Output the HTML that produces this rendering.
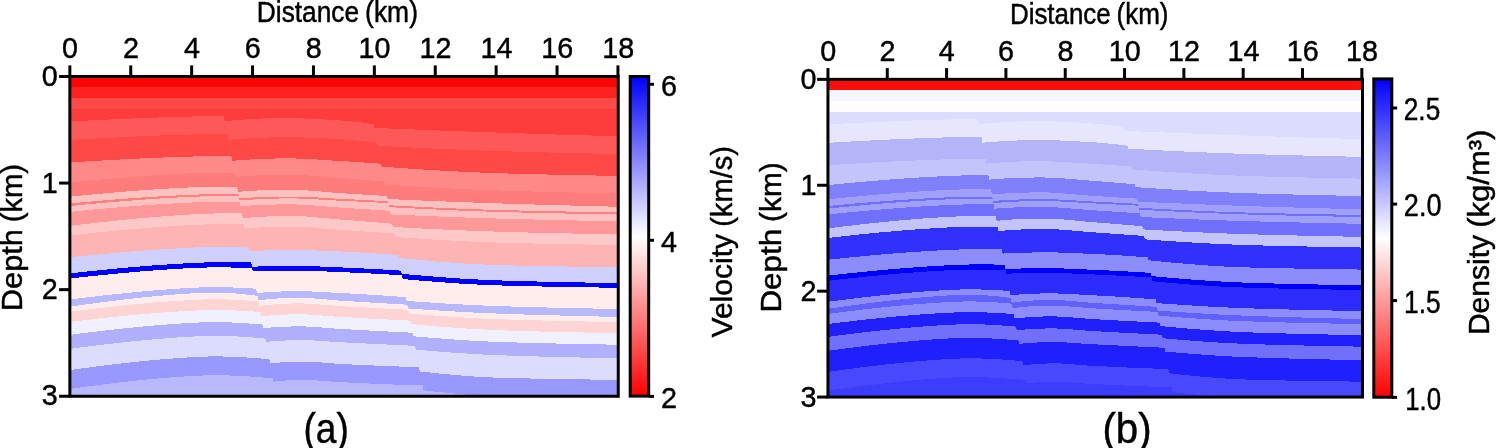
<!DOCTYPE html>
<html><head><meta charset="utf-8"><title>Velocity and density models</title>
<style>html,body{margin:0;padding:0;background:#fff}svg{display:block}</style></head>
<body>
<svg width="1498" height="448" viewBox="0 0 1498 448">
<rect width="1498" height="448" fill="#fff"/>
<clipPath id="ca"><rect x="69.80" y="76.50" width="548.60" height="319.80"/></clipPath>
<g clip-path="url(#ca)" shape-rendering="crispEdges">
<rect x="69.80" y="76.50" width="548.60" height="319.80" fill="#ff0404"/>
<rect x="69.80" y="86.50" width="548.60" height="311.80" fill="#ff2020"/>
<rect x="69.80" y="97.50" width="548.60" height="300.80" fill="#ff4848"/>
<rect x="69.80" y="108.75" width="548.60" height="289.55" fill="#ff3c3c"/>
<path d="M67.8,121.61 L71.6,121.40 L75.5,121.19 L79.3,120.99 L83.2,120.78 L87.0,120.58 L90.9,120.39 L94.7,120.20 L98.6,120.00 L102.4,119.82 L106.3,119.63 L110.1,119.45 L114.0,119.27 L117.8,119.10 L121.7,118.93 L125.5,118.76 L129.4,118.60 L133.2,118.43 L137.1,118.28 L140.9,118.12 L144.8,117.97 L148.6,117.83 L152.5,117.69 L156.3,117.55 L160.2,117.41 L164.0,117.29 L167.9,117.16 L171.7,117.04 L175.6,116.93 L179.4,116.82 L183.2,116.71 L187.1,116.61 L190.9,116.52 L194.8,116.43 L198.6,116.35 L202.5,116.28 L206.3,116.22 L210.2,116.16 L214.0,116.12 L217.9,116.10 L218.4,116.10 L219.0,116.10 L219.5,116.10 L220.1,116.10 L220.6,116.10 L221.2,116.10 L221.7,116.10 L222.2,116.10 L222.8,116.10 L223.3,116.10 L223.9,116.10 L224.7,121.22 L228.5,120.84 L232.3,120.49 L236.1,120.16 L240.0,119.86 L243.8,119.58 L247.6,119.32 L251.4,119.08 L255.3,118.87 L259.1,118.69 L262.9,118.52 L266.7,118.39 L270.5,118.28 L274.4,118.20 L278.2,118.14 L282.0,118.11 L285.8,118.10 L289.7,118.13 L293.5,118.18 L297.3,118.27 L301.1,118.38 L304.9,118.51 L308.8,118.66 L312.6,118.83 L316.4,119.02 L320.2,119.22 L324.1,119.43 L327.9,119.66 L331.7,119.89 L335.5,120.12 L339.3,120.36 L343.2,120.62 L347.0,120.93 L350.8,121.29 L354.6,121.69 L358.5,122.13 L362.3,122.59 L366.1,123.08 L369.9,123.59 L373.8,124.10 L374.6,127.93 L380.8,128.19 L387.1,128.45 L393.4,128.70 L399.7,128.95 L406.0,129.20 L412.3,129.45 L418.6,129.69 L424.9,129.94 L431.2,130.18 L437.5,130.42 L443.8,130.65 L450.0,130.89 L456.3,131.12 L462.6,131.34 L468.9,131.57 L475.2,131.79 L481.5,132.01 L487.8,132.23 L494.1,132.45 L500.4,132.66 L506.7,132.87 L513.0,133.08 L519.2,133.29 L525.5,133.50 L531.8,133.70 L538.1,133.90 L544.4,134.11 L550.7,134.30 L557.0,134.50 L563.3,134.69 L569.6,134.88 L575.9,135.07 L582.2,135.26 L588.4,135.44 L594.7,135.62 L601.0,135.80 L607.3,135.98 L613.6,136.15 L619.9,136.31 L621.4,401.3 L66.8,401.3Z" fill="#ff5858"/>
<path d="M67.8,140.12 L71.7,139.89 L75.6,139.66 L79.5,139.43 L83.4,139.20 L87.3,138.98 L91.2,138.76 L95.1,138.55 L99.0,138.34 L102.9,138.13 L106.8,137.92 L110.7,137.72 L114.6,137.53 L118.5,137.33 L122.4,137.14 L126.3,136.95 L130.2,136.77 L134.1,136.59 L138.0,136.42 L141.9,136.25 L145.9,136.08 L149.8,135.92 L153.7,135.76 L157.6,135.61 L161.5,135.46 L165.4,135.32 L169.3,135.18 L173.2,135.04 L177.1,134.92 L181.0,134.79 L184.9,134.68 L188.8,134.57 L192.7,134.47 L196.6,134.37 L200.5,134.28 L204.4,134.20 L208.3,134.13 L212.2,134.07 L216.1,134.03 L220.0,134.00 L220.7,134.00 L221.3,134.00 L222.0,134.00 L222.7,134.00 L223.3,134.00 L224.0,134.00 L224.6,134.00 L225.3,134.00 L226.0,134.00 L226.6,134.00 L227.3,134.00 L228.1,139.93 L231.9,139.59 L235.7,139.27 L239.6,138.98 L243.4,138.70 L247.2,138.45 L251.0,138.22 L254.9,138.01 L258.7,137.83 L262.5,137.67 L266.3,137.53 L270.1,137.41 L274.0,137.32 L277.8,137.26 L281.6,137.22 L285.4,137.20 L289.3,137.21 L293.1,137.25 L296.9,137.32 L300.7,137.41 L304.5,137.53 L308.4,137.66 L312.2,137.81 L316.0,137.98 L319.8,138.16 L323.6,138.36 L327.5,138.56 L331.3,138.77 L335.1,138.98 L338.9,139.19 L342.8,139.42 L346.6,139.68 L350.4,139.98 L354.2,140.31 L358.0,140.68 L361.9,141.07 L365.7,141.48 L369.5,141.91 L373.3,142.35 L377.2,142.80 L378.0,145.84 L384.2,146.17 L390.4,146.49 L396.6,146.81 L402.8,147.12 L409.0,147.43 L415.2,147.73 L421.4,148.03 L427.6,148.32 L433.8,148.60 L440.0,148.88 L446.2,149.15 L452.4,149.41 L458.6,149.66 L464.8,149.91 L471.0,150.14 L477.2,150.37 L483.4,150.59 L489.6,150.81 L495.8,151.01 L502.0,151.20 L508.2,151.39 L514.4,151.57 L520.6,151.75 L526.8,151.92 L533.0,152.08 L539.3,152.25 L545.5,152.40 L551.7,152.56 L557.9,152.71 L564.1,152.85 L570.3,153.00 L576.5,153.14 L582.7,153.28 L588.9,153.42 L595.1,153.55 L601.3,153.69 L607.5,153.82 L613.7,153.96 L619.9,154.09 L621.4,401.3 L66.8,401.3Z" fill="#ff4848"/>
<path d="M67.8,162.63 L71.7,162.38 L75.6,162.13 L79.5,161.88 L83.4,161.64 L87.3,161.40 L91.2,161.16 L95.1,160.93 L99.0,160.70 L102.9,160.47 L106.8,160.25 L110.7,160.03 L114.6,159.82 L118.5,159.61 L122.4,159.40 L126.3,159.20 L130.2,159.00 L134.1,158.81 L138.0,158.62 L141.9,158.43 L145.9,158.25 L149.8,158.08 L153.7,157.91 L157.6,157.74 L161.5,157.58 L165.4,157.43 L169.3,157.28 L173.2,157.13 L177.1,156.99 L181.0,156.86 L184.9,156.74 L188.8,156.62 L192.7,156.50 L196.6,156.40 L200.5,156.30 L204.4,156.22 L208.3,156.14 L212.2,156.08 L216.1,156.03 L220.0,156.00 L221.0,156.00 L222.1,156.00 L223.1,156.00 L224.1,156.00 L225.1,156.00 L226.2,156.00 L227.2,156.00 L228.2,156.00 L229.3,156.00 L230.3,156.00 L231.3,156.00 L232.1,160.83 L235.9,160.49 L239.8,160.18 L243.6,159.90 L247.4,159.64 L251.2,159.41 L255.0,159.20 L258.8,159.02 L262.7,158.86 L266.5,158.73 L270.3,158.62 L274.1,158.53 L277.9,158.47 L281.8,158.42 L285.6,158.40 L289.4,158.41 L293.2,158.45 L297.0,158.54 L300.8,158.67 L304.7,158.83 L308.5,159.02 L312.3,159.24 L316.1,159.47 L319.9,159.71 L323.8,159.96 L327.6,160.22 L331.4,160.47 L335.2,160.71 L339.0,160.94 L342.9,161.17 L346.7,161.39 L350.5,161.63 L354.3,161.88 L358.1,162.13 L361.9,162.38 L365.8,162.65 L369.6,162.91 L373.4,163.19 L377.2,163.47 L381.0,163.75 L381.8,166.66 L387.9,167.10 L394.0,167.54 L400.1,167.96 L406.3,168.38 L412.4,168.79 L418.5,169.19 L424.6,169.58 L430.7,169.96 L436.8,170.33 L442.9,170.68 L449.0,171.02 L455.1,171.35 L461.2,171.66 L467.3,171.96 L473.4,172.24 L479.5,172.50 L485.6,172.74 L491.7,172.97 L497.8,173.17 L503.9,173.37 L510.0,173.55 L516.1,173.73 L522.2,173.89 L528.3,174.05 L534.4,174.21 L540.5,174.35 L546.6,174.49 L552.8,174.63 L558.9,174.76 L565.0,174.89 L571.1,175.02 L577.2,175.14 L583.3,175.26 L589.4,175.38 L595.5,175.50 L601.6,175.62 L607.7,175.74 L613.8,175.86 L619.9,175.98 L621.4,401.3 L66.8,401.3Z" fill="#ff8888"/>
<path d="M67.8,182.60 L71.7,182.21 L75.6,181.83 L79.5,181.46 L83.4,181.09 L87.3,180.72 L91.2,180.36 L95.1,180.01 L99.0,179.66 L102.9,179.31 L106.8,178.98 L110.7,178.64 L114.6,178.32 L118.5,178.00 L122.4,177.68 L126.3,177.37 L130.2,177.07 L134.1,176.78 L138.0,176.49 L141.9,176.21 L145.9,175.93 L149.8,175.67 L153.7,175.41 L157.6,175.15 L161.5,174.91 L165.4,174.67 L169.3,174.44 L173.2,174.22 L177.1,174.01 L181.0,173.81 L184.9,173.62 L188.8,173.44 L192.7,173.27 L196.6,173.11 L200.5,172.96 L204.4,172.83 L208.3,172.72 L212.2,172.62 L216.1,172.54 L220.0,172.50 L221.3,172.50 L222.6,172.50 L223.9,172.50 L225.2,172.50 L226.5,172.50 L227.8,172.50 L229.1,172.50 L230.4,172.50 L231.8,172.50 L233.1,172.50 L234.4,172.50 L235.2,176.92 L239.0,176.58 L242.8,176.28 L246.6,176.01 L250.5,175.76 L254.3,175.55 L258.1,175.37 L261.9,175.21 L265.8,175.08 L269.6,174.97 L273.4,174.89 L277.2,174.83 L281.1,174.78 L284.9,174.76 L288.7,174.75 L292.5,174.78 L296.4,174.88 L300.2,175.02 L304.0,175.22 L307.8,175.45 L311.7,175.71 L315.5,176.01 L319.3,176.31 L323.1,176.63 L327.0,176.96 L330.8,177.28 L334.6,177.59 L338.4,177.89 L342.3,178.16 L346.1,178.44 L349.9,178.73 L353.7,179.03 L357.6,179.33 L361.4,179.64 L365.2,179.95 L369.1,180.27 L372.9,180.60 L376.7,180.93 L380.5,181.26 L384.4,181.60 L385.2,184.45 L391.2,184.86 L397.2,185.26 L403.2,185.65 L409.2,186.04 L415.2,186.41 L421.3,186.78 L427.3,187.14 L433.3,187.49 L439.3,187.83 L445.3,188.16 L451.4,188.48 L457.4,188.78 L463.4,189.07 L469.4,189.35 L475.4,189.62 L481.5,189.87 L487.5,190.11 L493.5,190.33 L499.5,190.53 L505.5,190.73 L511.6,190.92 L517.6,191.10 L523.6,191.27 L529.6,191.44 L535.6,191.60 L541.7,191.75 L547.7,191.90 L553.7,192.04 L559.7,192.18 L565.7,192.32 L571.7,192.46 L577.8,192.59 L583.8,192.72 L589.8,192.85 L595.8,192.98 L601.8,193.10 L607.9,193.23 L613.9,193.36 L619.9,193.49 L621.4,401.3 L66.8,401.3Z" fill="#ff7c7c"/>
<path d="M67.8,196.90 L71.7,196.51 L75.6,196.11 L79.5,195.73 L83.4,195.35 L87.3,194.97 L91.2,194.60 L95.1,194.23 L99.0,193.87 L102.9,193.52 L106.8,193.17 L110.7,192.83 L114.6,192.49 L118.5,192.16 L122.4,191.84 L126.3,191.52 L130.2,191.21 L134.1,190.91 L138.0,190.61 L141.9,190.32 L145.9,190.04 L149.8,189.76 L153.7,189.49 L157.6,189.23 L161.5,188.98 L165.4,188.74 L169.3,188.50 L173.2,188.28 L177.1,188.06 L181.0,187.85 L184.9,187.65 L188.8,187.47 L192.7,187.29 L196.6,187.13 L200.5,186.98 L204.4,186.84 L208.3,186.72 L212.2,186.62 L216.1,186.54 L220.0,186.50 L221.6,186.50 L223.1,186.50 L224.7,186.50 L226.2,186.50 L227.8,186.50 L229.3,186.50 L230.9,186.50 L232.4,186.50 L234.0,186.50 L235.5,186.50 L237.1,186.50 L237.9,191.92 L241.7,191.57 L245.5,191.26 L249.3,190.98 L253.2,190.73 L257.0,190.52 L260.8,190.33 L264.6,190.18 L268.5,190.05 L272.3,189.95 L276.1,189.87 L279.9,189.81 L283.8,189.77 L287.6,189.75 L291.4,189.76 L295.2,189.83 L299.1,189.96 L302.9,190.15 L306.7,190.39 L310.5,190.67 L314.4,190.98 L318.2,191.31 L322.0,191.64 L325.8,191.98 L329.7,192.32 L333.5,192.63 L337.3,192.92 L341.1,193.17 L345.0,193.42 L348.8,193.66 L352.6,193.90 L356.4,194.14 L360.3,194.38 L364.1,194.61 L367.9,194.85 L371.7,195.08 L375.6,195.31 L379.4,195.54 L383.2,195.77 L387.0,196.00 L387.8,199.04 L393.8,199.30 L399.7,199.56 L405.7,199.82 L411.6,200.08 L417.6,200.33 L423.5,200.58 L429.5,200.83 L435.4,201.07 L441.4,201.31 L447.3,201.55 L453.3,201.78 L459.2,202.01 L465.2,202.23 L471.1,202.45 L477.1,202.66 L483.0,202.87 L489.0,203.08 L494.9,203.28 L500.9,203.47 L506.8,203.67 L512.8,203.86 L518.7,204.04 L524.7,204.22 L530.6,204.40 L536.6,204.58 L542.5,204.75 L548.5,204.93 L554.4,205.09 L560.4,205.26 L566.3,205.42 L572.3,205.59 L578.2,205.75 L584.2,205.90 L590.1,206.06 L596.1,206.21 L602.0,206.36 L608.0,206.51 L613.9,206.66 L619.9,206.80 L621.4,401.3 L66.8,401.3Z" fill="#ffc0c0"/>
<path d="M67.8,203.59 L71.7,203.22 L75.6,202.86 L79.5,202.50 L83.4,202.15 L87.3,201.80 L91.2,201.46 L95.1,201.13 L99.0,200.80 L102.9,200.47 L106.8,200.15 L110.7,199.83 L114.6,199.52 L118.5,199.22 L122.4,198.92 L126.3,198.63 L130.2,198.34 L134.1,198.06 L138.0,197.79 L141.9,197.52 L145.9,197.26 L149.8,197.01 L153.7,196.76 L157.6,196.52 L161.5,196.29 L165.4,196.06 L169.3,195.85 L173.2,195.64 L177.1,195.44 L181.0,195.24 L184.9,195.06 L188.8,194.89 L192.7,194.73 L196.6,194.58 L200.5,194.44 L204.4,194.31 L208.3,194.20 L212.2,194.11 L216.1,194.04 L220.0,194.00 L221.7,194.00 L223.3,194.00 L225.0,194.00 L226.7,194.00 L228.4,194.00 L230.0,194.00 L231.7,194.00 L233.4,194.00 L235.0,194.00 L236.7,194.00 L238.4,194.00 L239.2,198.34 L243.0,198.05 L246.8,197.80 L250.6,197.57 L254.4,197.36 L258.3,197.18 L262.1,197.02 L265.9,196.88 L269.7,196.77 L273.5,196.68 L277.4,196.60 L281.2,196.55 L285.0,196.52 L288.8,196.50 L292.6,196.51 L296.5,196.56 L300.3,196.66 L304.1,196.80 L307.9,196.97 L311.7,197.16 L315.6,197.37 L319.4,197.60 L323.2,197.83 L327.0,198.07 L330.8,198.30 L334.6,198.52 L338.5,198.72 L342.3,198.91 L346.1,199.10 L349.9,199.29 L353.7,199.48 L357.6,199.67 L361.4,199.86 L365.2,200.06 L369.0,200.25 L372.8,200.45 L376.7,200.65 L380.5,200.85 L384.3,201.05 L388.1,201.25 L388.9,205.24 L394.8,205.56 L400.8,205.88 L406.7,206.19 L412.6,206.49 L418.5,206.79 L424.5,207.09 L430.4,207.37 L436.3,207.65 L442.2,207.92 L448.1,208.18 L454.1,208.43 L460.0,208.67 L465.9,208.90 L471.8,209.13 L477.8,209.34 L483.7,209.54 L489.6,209.72 L495.5,209.90 L501.4,210.06 L507.4,210.22 L513.3,210.37 L519.2,210.52 L525.1,210.66 L531.1,210.79 L537.0,210.92 L542.9,211.05 L548.8,211.17 L554.8,211.29 L560.7,211.40 L566.6,211.52 L572.5,211.63 L578.4,211.73 L584.4,211.84 L590.3,211.95 L596.2,212.05 L602.1,212.16 L608.1,212.26 L614.0,212.37 L619.9,212.47 L621.4,401.3 L66.8,401.3Z" fill="#ff8080"/>
<path d="M67.8,206.20 L71.7,205.81 L75.6,205.43 L79.5,205.05 L83.4,204.67 L87.3,204.30 L91.2,203.94 L95.1,203.58 L99.0,203.23 L102.9,202.88 L106.8,202.54 L110.7,202.21 L114.6,201.88 L118.5,201.55 L122.4,201.24 L126.3,200.92 L130.2,200.62 L134.1,200.32 L138.0,200.03 L141.9,199.75 L145.9,199.47 L149.8,199.20 L153.7,198.94 L157.6,198.68 L161.5,198.43 L165.4,198.19 L169.3,197.96 L173.2,197.74 L177.1,197.53 L181.0,197.32 L184.9,197.13 L188.8,196.95 L192.7,196.78 L196.6,196.62 L200.5,196.47 L204.4,196.34 L208.3,196.22 L212.2,196.12 L216.1,196.04 L220.0,196.00 L221.7,196.00 L223.4,196.00 L225.1,196.00 L226.8,196.00 L228.5,196.00 L230.2,196.00 L231.9,196.00 L233.6,196.00 L235.4,196.00 L237.1,196.00 L238.8,196.00 L239.6,200.53 L243.4,200.21 L247.2,199.92 L251.0,199.66 L254.8,199.42 L258.7,199.21 L262.5,199.03 L266.3,198.86 L270.1,198.73 L273.9,198.62 L277.7,198.53 L281.6,198.46 L285.4,198.42 L289.2,198.40 L293.0,198.41 L296.8,198.47 L300.7,198.57 L304.5,198.71 L308.3,198.88 L312.1,199.08 L315.9,199.29 L319.7,199.52 L323.6,199.76 L327.4,199.99 L331.2,200.22 L335.0,200.44 L338.8,200.64 L342.6,200.83 L346.5,201.01 L350.3,201.20 L354.1,201.38 L357.9,201.57 L361.7,201.76 L365.6,201.95 L369.4,202.14 L373.2,202.33 L377.0,202.52 L380.8,202.71 L384.6,202.91 L388.5,203.10 L389.3,207.14 L395.2,207.46 L401.1,207.77 L407.0,208.08 L412.9,208.38 L418.8,208.68 L424.7,208.96 L430.7,209.25 L436.6,209.52 L442.5,209.79 L448.4,210.05 L454.3,210.30 L460.2,210.55 L466.1,210.78 L472.1,211.01 L478.0,211.22 L483.9,211.43 L489.8,211.62 L495.7,211.80 L501.6,211.98 L507.5,212.14 L513.5,212.30 L519.4,212.46 L525.3,212.61 L531.2,212.75 L537.1,212.89 L543.0,213.03 L548.9,213.16 L554.8,213.29 L560.8,213.41 L566.7,213.54 L572.6,213.66 L578.5,213.78 L584.4,213.89 L590.3,214.01 L596.2,214.12 L602.2,214.24 L608.1,214.35 L614.0,214.47 L619.9,214.58 L621.4,401.3 L66.8,401.3Z" fill="#ffc0c0"/>
<path d="M67.8,212.10 L71.7,211.71 L75.6,211.31 L79.5,210.93 L83.4,210.55 L87.3,210.17 L91.2,209.80 L95.1,209.43 L99.0,209.07 L102.9,208.72 L106.8,208.37 L110.7,208.03 L114.6,207.69 L118.5,207.36 L122.4,207.04 L126.3,206.72 L130.2,206.41 L134.1,206.11 L138.0,205.81 L141.9,205.52 L145.9,205.24 L149.8,204.96 L153.7,204.69 L157.6,204.43 L161.5,204.18 L165.4,203.94 L169.3,203.70 L173.2,203.48 L177.1,203.26 L181.0,203.05 L184.9,202.85 L188.8,202.67 L192.7,202.49 L196.6,202.33 L200.5,202.18 L204.4,202.04 L208.3,201.92 L212.2,201.82 L216.1,201.74 L220.0,201.70 L221.8,201.70 L223.6,201.70 L225.4,201.70 L227.2,201.70 L229.0,201.70 L230.8,201.70 L232.6,201.70 L234.4,201.70 L236.2,201.70 L238.0,201.70 L239.8,201.70 L240.6,206.18 L244.5,205.87 L248.3,205.60 L252.1,205.36 L255.9,205.15 L259.8,204.97 L263.6,204.82 L267.4,204.70 L271.2,204.60 L275.1,204.53 L278.9,204.47 L282.7,204.43 L286.5,204.41 L290.4,204.40 L294.2,204.43 L298.0,204.52 L301.9,204.68 L305.7,204.89 L309.5,205.15 L313.3,205.43 L317.2,205.74 L321.0,206.07 L324.8,206.40 L328.6,206.73 L332.5,207.05 L336.3,207.34 L340.1,207.61 L343.9,207.85 L347.8,208.10 L351.6,208.35 L355.4,208.60 L359.2,208.84 L363.1,209.09 L366.9,209.33 L370.7,209.58 L374.6,209.82 L378.4,210.07 L382.2,210.31 L386.0,210.56 L389.9,210.80 L390.7,214.44 L396.5,214.71 L402.4,214.97 L408.3,215.23 L414.2,215.49 L420.0,215.74 L425.9,215.99 L431.8,216.23 L437.7,216.47 L443.6,216.70 L449.4,216.93 L455.3,217.15 L461.2,217.37 L467.1,217.58 L472.9,217.78 L478.8,217.98 L484.7,218.17 L490.6,218.35 L496.5,218.53 L502.3,218.69 L508.2,218.86 L514.1,219.02 L520.0,219.17 L525.9,219.32 L531.7,219.47 L537.6,219.61 L543.5,219.76 L549.4,219.89 L555.2,220.03 L561.1,220.16 L567.0,220.29 L572.9,220.42 L578.8,220.54 L584.6,220.66 L590.5,220.79 L596.4,220.91 L602.3,221.03 L608.1,221.15 L614.0,221.27 L619.9,221.38 L621.4,401.3 L66.8,401.3Z" fill="#ff9898"/>
<path d="M67.8,226.15 L71.7,225.66 L75.6,225.18 L79.5,224.71 L83.4,224.24 L87.3,223.78 L91.2,223.32 L95.1,222.88 L99.0,222.44 L102.9,222.00 L106.8,221.58 L110.7,221.16 L114.6,220.74 L118.5,220.34 L122.4,219.94 L126.3,219.56 L130.2,219.17 L134.1,218.80 L138.0,218.44 L141.9,218.08 L145.9,217.74 L149.8,217.40 L153.7,217.07 L157.6,216.75 L161.5,216.44 L165.4,216.14 L169.3,215.85 L173.2,215.58 L177.1,215.31 L181.0,215.06 L184.9,214.81 L188.8,214.58 L192.7,214.37 L196.6,214.17 L200.5,213.99 L204.4,213.82 L208.3,213.67 L212.2,213.55 L216.1,213.45 L220.0,213.40 L222.0,213.40 L224.0,213.40 L226.0,213.40 L228.0,213.40 L230.0,213.40 L232.0,213.40 L234.0,213.40 L236.0,213.40 L238.0,213.40 L240.1,213.40 L242.1,213.40 L242.9,218.31 L246.7,217.92 L250.5,217.58 L254.3,217.27 L258.2,217.00 L262.0,216.77 L265.8,216.57 L269.7,216.40 L273.5,216.27 L277.3,216.16 L281.2,216.09 L285.0,216.03 L288.8,216.01 L292.6,216.00 L296.5,216.06 L300.3,216.19 L304.1,216.39 L308.0,216.64 L311.8,216.93 L315.6,217.26 L319.5,217.62 L323.3,217.98 L327.1,218.35 L330.9,218.72 L334.8,219.07 L338.6,219.39 L342.4,219.69 L346.3,219.98 L350.1,220.28 L353.9,220.59 L357.8,220.89 L361.6,221.20 L365.4,221.51 L369.2,221.82 L373.1,222.14 L376.9,222.45 L380.7,222.77 L384.6,223.10 L388.4,223.42 L392.2,223.75 L393.0,226.94 L398.8,227.27 L404.7,227.58 L410.5,227.89 L416.3,228.20 L422.1,228.50 L427.9,228.80 L433.7,229.08 L439.6,229.36 L445.4,229.64 L451.2,229.90 L457.0,230.16 L462.8,230.40 L468.6,230.64 L474.5,230.87 L480.3,231.08 L486.1,231.29 L491.9,231.48 L497.7,231.67 L503.6,231.84 L509.4,232.01 L515.2,232.17 L521.0,232.33 L526.8,232.48 L532.6,232.63 L538.5,232.77 L544.3,232.90 L550.1,233.04 L555.9,233.17 L561.7,233.30 L567.5,233.42 L573.4,233.54 L579.2,233.66 L585.0,233.78 L590.8,233.90 L596.6,234.02 L602.4,234.13 L608.3,234.25 L614.1,234.37 L619.9,234.48 L621.4,401.3 L66.8,401.3Z" fill="#ffc8c8"/>
<path d="M67.8,235.73 L71.7,235.28 L75.6,234.85 L79.5,234.41 L83.4,233.99 L87.3,233.57 L91.2,233.15 L95.1,232.74 L99.0,232.34 L102.9,231.95 L106.8,231.56 L110.7,231.17 L114.6,230.80 L118.5,230.43 L122.4,230.07 L126.3,229.71 L130.2,229.37 L134.1,229.03 L138.0,228.69 L141.9,228.37 L145.9,228.05 L149.8,227.75 L153.7,227.45 L157.6,227.16 L161.5,226.87 L165.4,226.60 L169.3,226.34 L173.2,226.08 L177.1,225.84 L181.0,225.61 L184.9,225.39 L188.8,225.18 L192.7,224.98 L196.6,224.80 L200.5,224.63 L204.4,224.48 L208.3,224.35 L212.2,224.24 L216.1,224.15 L220.0,224.10 L222.2,224.10 L224.4,224.10 L226.6,224.10 L228.7,224.10 L230.9,224.10 L233.1,224.10 L235.3,224.10 L237.5,224.10 L239.7,224.10 L241.8,224.10 L244.0,224.10 L244.8,228.67 L248.7,228.30 L252.5,227.97 L256.3,227.68 L260.1,227.42 L264.0,227.20 L267.8,227.01 L271.6,226.86 L275.4,226.73 L279.3,226.64 L283.1,226.57 L286.9,226.52 L290.7,226.50 L294.6,226.51 L298.4,226.59 L302.2,226.74 L306.1,226.95 L309.9,227.20 L313.7,227.50 L317.5,227.82 L321.4,228.16 L325.2,228.51 L329.0,228.86 L332.8,229.19 L336.7,229.51 L340.5,229.78 L344.3,230.05 L348.1,230.31 L352.0,230.58 L355.8,230.84 L359.6,231.11 L363.4,231.37 L367.3,231.64 L371.1,231.90 L374.9,232.17 L378.8,232.43 L382.6,232.70 L386.4,232.97 L390.2,233.23 L394.1,233.50 L394.9,236.96 L400.6,237.36 L406.4,237.76 L412.2,238.15 L417.9,238.53 L423.7,238.91 L429.5,239.27 L435.3,239.63 L441.0,239.97 L446.8,240.31 L452.6,240.63 L458.3,240.93 L464.1,241.22 L469.9,241.50 L475.6,241.75 L481.4,241.99 L487.2,242.21 L493.0,242.41 L498.7,242.60 L504.5,242.77 L510.3,242.93 L516.0,243.09 L521.8,243.24 L527.6,243.38 L533.3,243.52 L539.1,243.64 L544.9,243.77 L550.7,243.89 L556.4,244.01 L562.2,244.12 L568.0,244.23 L573.7,244.34 L579.5,244.44 L585.3,244.55 L591.0,244.65 L596.8,244.76 L602.6,244.86 L608.4,244.97 L614.1,245.07 L619.9,245.18 L621.4,401.3 L66.8,401.3Z" fill="#ffb4b4"/>
<path d="M67.8,257.61 L71.7,257.20 L75.6,256.79 L79.5,256.38 L83.4,255.99 L87.3,255.59 L91.2,255.21 L95.1,254.82 L99.0,254.45 L102.9,254.08 L106.8,253.72 L110.7,253.36 L114.6,253.01 L118.5,252.66 L122.4,252.33 L126.3,251.99 L130.2,251.67 L134.1,251.35 L138.0,251.04 L141.9,250.74 L145.9,250.44 L149.8,250.16 L153.7,249.88 L157.6,249.60 L161.5,249.34 L165.4,249.09 L169.3,248.84 L173.2,248.60 L177.1,248.38 L181.0,248.16 L184.9,247.95 L188.8,247.76 L192.7,247.58 L196.6,247.41 L200.5,247.25 L204.4,247.11 L208.3,246.98 L212.2,246.88 L216.1,246.79 L220.0,246.75 L222.6,246.75 L225.1,246.75 L227.7,246.75 L230.3,246.75 L232.8,246.75 L235.4,246.75 L238.0,246.75 L240.5,246.75 L243.1,246.75 L245.7,246.75 L248.2,246.75 L249.0,251.20 L252.9,251.00 L256.7,250.82 L260.5,250.65 L264.3,250.51 L268.1,250.38 L272.0,250.28 L275.8,250.19 L279.6,250.12 L283.4,250.06 L287.2,250.03 L291.1,250.01 L294.9,250.00 L298.7,250.02 L302.5,250.08 L306.3,250.16 L310.2,250.27 L314.0,250.39 L317.8,250.54 L321.6,250.69 L325.4,250.86 L329.3,251.03 L333.1,251.20 L336.9,251.37 L340.7,251.53 L344.5,251.70 L348.4,251.88 L352.2,252.06 L356.0,252.26 L359.8,252.47 L363.6,252.69 L367.5,252.91 L371.3,253.15 L375.1,253.39 L378.9,253.64 L382.7,253.90 L386.6,254.16 L390.4,254.43 L394.2,254.71 L398.0,255.00 L398.8,257.98 L404.5,258.52 L410.2,259.06 L415.8,259.60 L421.5,260.12 L427.2,260.63 L432.8,261.12 L438.5,261.60 L444.2,262.06 L449.8,262.49 L455.5,262.91 L461.2,263.30 L466.8,263.66 L472.5,263.99 L478.2,264.29 L483.8,264.56 L489.5,264.79 L495.2,264.99 L500.9,265.16 L506.5,265.31 L512.2,265.46 L517.9,265.60 L523.5,265.73 L529.2,265.85 L534.9,265.97 L540.5,266.07 L546.2,266.18 L551.9,266.27 L557.5,266.37 L563.2,266.46 L568.9,266.55 L574.5,266.63 L580.2,266.72 L585.9,266.80 L591.6,266.88 L597.2,266.97 L602.9,267.05 L608.6,267.14 L614.2,267.23 L619.9,267.32 L621.4,401.3 L66.8,401.3Z" fill="#d0d0ff"/>
<path d="M67.8,273.63 L71.7,273.19 L75.6,272.75 L79.5,272.32 L83.4,271.90 L87.3,271.48 L91.2,271.07 L95.1,270.67 L99.0,270.27 L102.9,269.88 L106.8,269.49 L110.7,269.11 L114.6,268.74 L118.5,268.37 L122.4,268.02 L126.3,267.66 L130.2,267.32 L134.1,266.98 L138.0,266.65 L141.9,266.33 L145.9,266.02 L149.8,265.71 L153.7,265.42 L157.6,265.13 L161.5,264.85 L165.4,264.58 L169.3,264.32 L173.2,264.07 L177.1,263.83 L181.0,263.60 L184.9,263.38 L188.8,263.17 L192.7,262.98 L196.6,262.80 L200.5,262.63 L204.4,262.48 L208.3,262.35 L212.2,262.23 L216.1,262.15 L220.0,262.10 L222.8,262.10 L225.7,262.11 L228.5,262.12 L231.3,262.13 L234.2,262.15 L237.0,262.17 L239.8,262.19 L242.7,262.21 L245.5,262.24 L248.3,262.27 L251.2,262.30 L252.0,266.76 L255.8,266.60 L259.6,266.45 L263.4,266.33 L267.2,266.22 L271.1,266.13 L274.9,266.06 L278.7,266.00 L282.5,265.96 L286.3,265.93 L290.2,265.91 L294.0,265.90 L297.8,265.91 L301.6,265.95 L305.4,266.02 L309.3,266.12 L313.1,266.25 L316.9,266.39 L320.7,266.55 L324.5,266.72 L328.4,266.89 L332.2,267.06 L336.0,267.23 L339.8,267.39 L343.6,267.55 L347.5,267.71 L351.3,267.88 L355.1,268.06 L358.9,268.24 L362.7,268.43 L366.6,268.62 L370.4,268.82 L374.2,269.03 L378.0,269.24 L381.8,269.45 L385.7,269.67 L389.5,269.90 L393.3,270.13 L397.1,270.36 L400.9,270.60 L401.7,273.87 L407.3,274.36 L412.9,274.85 L418.5,275.33 L424.1,275.80 L429.7,276.26 L435.3,276.70 L440.9,277.13 L446.5,277.55 L452.1,277.95 L457.7,278.33 L463.3,278.69 L468.9,279.03 L474.5,279.34 L480.1,279.64 L485.6,279.90 L491.2,280.14 L496.8,280.34 L502.4,280.53 L508.0,280.72 L513.6,280.89 L519.2,281.05 L524.8,281.20 L530.4,281.35 L536.0,281.49 L541.6,281.62 L547.2,281.75 L552.8,281.87 L558.4,281.99 L564.0,282.10 L569.6,282.21 L575.1,282.32 L580.7,282.43 L586.3,282.53 L591.9,282.64 L597.5,282.75 L603.1,282.85 L608.7,282.96 L614.3,283.07 L619.9,283.18 L621.4,401.3 L66.8,401.3Z" fill="#0000ff"/>
<path d="M67.8,278.83 L71.5,278.40 L75.3,277.97 L79.0,277.54 L82.8,277.12 L86.5,276.71 L90.3,276.30 L94.0,275.90 L97.8,275.50 L101.5,275.11 L105.3,274.73 L109.0,274.36 L112.8,273.99 L116.5,273.62 L120.3,273.27 L124.0,272.92 L127.8,272.58 L131.5,272.24 L135.3,271.92 L139.0,271.60 L142.8,271.29 L146.5,270.99 L150.3,270.69 L154.0,270.40 L157.8,270.13 L161.5,269.86 L165.3,269.60 L169.0,269.35 L172.8,269.11 L176.5,268.88 L180.3,268.67 L184.0,268.46 L187.8,268.27 L191.5,268.09 L195.3,267.92 L199.0,267.78 L202.8,267.64 L206.5,267.53 L210.3,267.45 L214.0,267.40 L217.5,267.41 L220.9,267.42 L224.4,267.44 L227.9,267.46 L231.3,267.50 L234.8,267.53 L238.3,267.58 L241.7,267.63 L245.2,267.68 L248.6,267.74 L252.1,267.80 L252.9,271.46 L256.7,271.30 L260.5,271.15 L264.4,271.02 L268.2,270.92 L272.0,270.83 L275.8,270.76 L279.6,270.70 L283.5,270.66 L287.3,270.63 L291.1,270.61 L294.9,270.60 L298.7,270.61 L302.6,270.66 L306.4,270.74 L310.2,270.85 L314.0,270.98 L317.8,271.12 L321.7,271.29 L325.5,271.46 L329.3,271.63 L333.1,271.80 L336.9,271.97 L340.8,272.13 L344.6,272.29 L348.4,272.45 L352.2,272.62 L356.0,272.79 L359.8,272.97 L363.7,273.15 L367.5,273.34 L371.3,273.54 L375.1,273.73 L378.9,273.94 L382.8,274.14 L386.6,274.36 L390.4,274.57 L394.2,274.79 L398.0,275.02 L401.9,275.25 L402.7,279.07 L408.2,279.55 L413.8,280.03 L419.4,280.50 L424.9,280.97 L430.5,281.42 L436.1,281.86 L441.7,282.28 L447.2,282.69 L452.8,283.08 L458.4,283.45 L463.9,283.80 L469.5,284.12 L475.1,284.43 L480.6,284.70 L486.2,284.95 L491.8,285.17 L497.4,285.36 L502.9,285.53 L508.5,285.69 L514.1,285.85 L519.6,285.99 L525.2,286.13 L530.8,286.26 L536.3,286.38 L541.9,286.50 L547.5,286.61 L553.1,286.72 L558.6,286.82 L564.2,286.92 L569.8,287.02 L575.3,287.11 L580.9,287.21 L586.5,287.30 L592.0,287.39 L597.6,287.49 L603.2,287.58 L608.8,287.68 L614.3,287.78 L619.9,287.87 L621.4,401.3 L66.8,401.3Z" fill="#ffecec"/>
<path d="M67.8,299.86 L71.5,299.37 L75.3,298.89 L79.0,298.42 L82.8,297.95 L86.5,297.49 L90.3,297.03 L94.0,296.58 L97.8,296.14 L101.5,295.71 L105.3,295.28 L109.0,294.86 L112.8,294.45 L116.5,294.05 L120.3,293.65 L124.0,293.26 L127.8,292.88 L131.5,292.51 L135.3,292.14 L139.0,291.79 L142.8,291.44 L146.5,291.10 L150.3,290.77 L154.0,290.45 L157.8,290.14 L161.5,289.84 L165.3,289.56 L169.0,289.28 L172.8,289.01 L176.5,288.76 L180.3,288.51 L184.0,288.29 L187.8,288.07 L191.5,287.87 L195.3,287.69 L199.0,287.52 L202.8,287.37 L206.5,287.25 L210.3,287.15 L214.0,287.10 L217.8,287.12 L221.7,287.18 L225.5,287.26 L229.3,287.37 L233.1,287.50 L237.0,287.65 L240.8,287.83 L244.6,288.03 L248.4,288.25 L252.3,288.49 L256.1,288.75 L256.9,293.03 L260.7,292.71 L264.5,292.42 L268.4,292.15 L272.2,291.92 L276.0,291.72 L279.8,291.56 L283.6,291.42 L287.5,291.32 L291.3,291.24 L295.1,291.21 L298.9,291.20 L302.7,291.25 L306.6,291.34 L310.4,291.46 L314.2,291.62 L318.0,291.80 L321.9,292.00 L325.7,292.21 L329.5,292.43 L333.3,292.64 L337.1,292.85 L341.0,293.05 L344.8,293.24 L348.6,293.45 L352.4,293.66 L356.3,293.87 L360.1,294.09 L363.9,294.32 L367.7,294.55 L371.5,294.79 L375.4,295.03 L379.2,295.29 L383.0,295.54 L386.8,295.80 L390.7,296.07 L394.5,296.35 L398.3,296.62 L402.1,296.91 L405.9,297.20 L406.7,300.96 L412.2,301.34 L417.7,301.72 L423.1,302.09 L428.6,302.45 L434.1,302.81 L439.5,303.16 L445.0,303.50 L450.5,303.83 L455.9,304.14 L461.4,304.45 L466.9,304.74 L472.3,305.01 L477.8,305.27 L483.3,305.52 L488.7,305.74 L494.2,305.95 L499.7,306.14 L505.1,306.32 L510.6,306.50 L516.1,306.67 L521.5,306.83 L527.0,306.98 L532.4,307.13 L537.9,307.27 L543.4,307.41 L548.8,307.55 L554.3,307.67 L559.8,307.80 L565.2,307.92 L570.7,308.04 L576.2,308.16 L581.6,308.28 L587.1,308.40 L592.6,308.51 L598.0,308.63 L603.5,308.74 L609.0,308.86 L614.4,308.97 L619.9,309.09 L621.4,401.3 L66.8,401.3Z" fill="#b8b8ff"/>
<path d="M67.8,307.05 L71.5,306.49 L75.3,305.94 L79.0,305.40 L82.8,304.87 L86.5,304.34 L90.3,303.82 L94.0,303.31 L97.8,302.81 L101.5,302.31 L105.3,301.83 L109.0,301.35 L112.8,300.88 L116.5,300.42 L120.3,299.97 L124.0,299.52 L127.8,299.09 L131.5,298.66 L135.3,298.25 L139.0,297.84 L142.8,297.45 L146.5,297.06 L150.3,296.69 L154.0,296.32 L157.8,295.97 L161.5,295.63 L165.3,295.30 L169.0,294.98 L172.8,294.68 L176.5,294.39 L180.3,294.11 L184.0,293.85 L187.8,293.61 L191.5,293.38 L195.3,293.17 L199.0,292.98 L202.8,292.81 L206.5,292.67 L210.3,292.56 L214.0,292.50 L218.0,292.55 L221.9,292.66 L225.9,292.83 L229.8,293.05 L233.8,293.32 L237.7,293.64 L241.7,294.01 L245.6,294.42 L249.6,294.87 L253.5,295.36 L257.5,295.90 L258.3,300.49 L262.1,300.00 L265.9,299.55 L269.7,299.15 L273.5,298.80 L277.4,298.50 L281.2,298.25 L285.0,298.05 L288.8,297.90 L292.7,297.80 L296.5,297.75 L300.3,297.77 L304.1,297.87 L307.9,298.04 L311.8,298.27 L315.6,298.56 L319.4,298.87 L323.2,299.21 L327.1,299.56 L330.9,299.90 L334.7,300.22 L338.5,300.50 L342.4,300.75 L346.2,301.00 L350.0,301.24 L353.8,301.48 L357.6,301.72 L361.5,301.96 L365.3,302.20 L369.1,302.44 L372.9,302.67 L376.8,302.90 L380.6,303.13 L384.4,303.36 L388.2,303.59 L392.0,303.82 L395.9,304.04 L399.7,304.26 L403.5,304.48 L407.3,304.70 L408.1,308.46 L413.6,308.83 L419.0,309.21 L424.4,309.58 L429.9,309.94 L435.3,310.29 L440.7,310.64 L446.1,310.98 L451.6,311.30 L457.0,311.62 L462.4,311.93 L467.9,312.22 L473.3,312.50 L478.7,312.77 L484.2,313.02 L489.6,313.26 L495.0,313.48 L500.4,313.68 L505.9,313.88 L511.3,314.07 L516.7,314.26 L522.2,314.44 L527.6,314.61 L533.0,314.77 L538.5,314.93 L543.9,315.09 L549.3,315.24 L554.7,315.39 L560.2,315.53 L565.6,315.67 L571.0,315.81 L576.5,315.95 L581.9,316.08 L587.3,316.21 L592.8,316.34 L598.2,316.48 L603.6,316.61 L609.0,316.74 L614.5,316.87 L619.9,317.00 L621.4,401.3 L66.8,401.3Z" fill="#ffecec"/>
<path d="M67.8,312.06 L71.5,311.57 L75.3,311.09 L79.0,310.61 L82.8,310.14 L86.5,309.68 L90.3,309.22 L94.0,308.77 L97.8,308.33 L101.5,307.89 L105.3,307.47 L109.0,307.04 L112.8,306.63 L116.5,306.22 L120.3,305.83 L124.0,305.43 L127.8,305.05 L131.5,304.68 L135.3,304.31 L139.0,303.96 L142.8,303.61 L146.5,303.27 L150.3,302.94 L154.0,302.62 L157.8,302.31 L161.5,302.01 L165.3,301.72 L169.0,301.44 L172.8,301.17 L176.5,300.91 L180.3,300.67 L184.0,300.44 L187.8,300.22 L191.5,300.02 L195.3,299.84 L199.0,299.67 L202.8,299.52 L206.5,299.40 L210.3,299.30 L214.0,299.25 L218.0,299.28 L222.1,299.35 L226.1,299.47 L230.2,299.61 L234.2,299.79 L238.3,300.01 L242.3,300.25 L246.4,300.52 L250.4,300.82 L254.5,301.15 L258.5,301.50 L259.3,306.09 L263.1,305.60 L266.9,305.16 L270.8,304.77 L274.6,304.42 L278.4,304.12 L282.2,303.88 L286.0,303.68 L289.9,303.53 L293.7,303.44 L297.5,303.40 L301.3,303.43 L305.1,303.54 L309.0,303.72 L312.8,303.95 L316.6,304.23 L320.4,304.54 L324.2,304.87 L328.1,305.20 L331.9,305.52 L335.7,305.82 L339.5,306.07 L343.3,306.30 L347.2,306.52 L351.0,306.74 L354.8,306.96 L358.6,307.18 L362.4,307.39 L366.3,307.60 L370.1,307.81 L373.9,308.02 L377.7,308.23 L381.5,308.43 L385.4,308.63 L389.2,308.82 L393.0,309.01 L396.8,309.20 L400.6,309.39 L404.5,309.57 L408.3,309.75 L409.1,313.56 L414.5,314.00 L419.9,314.43 L425.3,314.85 L430.7,315.26 L436.1,315.66 L441.5,316.06 L446.9,316.44 L452.3,316.80 L457.7,317.16 L463.1,317.49 L468.5,317.81 L473.9,318.11 L479.4,318.39 L484.8,318.65 L490.2,318.89 L495.6,319.10 L501.0,319.29 L506.4,319.48 L511.8,319.65 L517.2,319.82 L522.6,319.98 L528.0,320.14 L533.4,320.28 L538.8,320.42 L544.2,320.56 L549.6,320.69 L555.0,320.81 L560.4,320.94 L565.8,321.05 L571.2,321.17 L576.7,321.29 L582.1,321.40 L587.5,321.51 L592.9,321.62 L598.3,321.73 L603.7,321.85 L609.1,321.96 L614.5,322.08 L619.9,322.19 L621.4,401.3 L66.8,401.3Z" fill="#ffd4d4"/>
<path d="M67.8,322.25 L71.5,321.78 L75.3,321.32 L79.0,320.86 L82.8,320.42 L86.5,319.97 L90.3,319.54 L94.0,319.11 L97.8,318.68 L101.5,318.26 L105.3,317.86 L109.0,317.45 L112.8,317.06 L116.5,316.67 L120.3,316.29 L124.0,315.91 L127.8,315.55 L131.5,315.19 L135.3,314.84 L139.0,314.50 L142.8,314.17 L146.5,313.84 L150.3,313.53 L154.0,313.22 L157.8,312.92 L161.5,312.63 L165.3,312.36 L169.0,312.09 L172.8,311.84 L176.5,311.59 L180.3,311.36 L184.0,311.14 L187.8,310.93 L191.5,310.74 L195.3,310.56 L199.0,310.40 L202.8,310.26 L206.5,310.14 L210.3,310.05 L214.0,310.00 L218.2,310.03 L222.4,310.09 L226.7,310.19 L230.9,310.32 L235.1,310.48 L239.3,310.67 L243.6,310.89 L247.8,311.13 L252.0,311.39 L256.2,311.68 L260.4,312.00 L261.2,316.41 L265.1,316.00 L268.9,315.64 L272.7,315.32 L276.5,315.04 L280.4,314.81 L284.2,314.62 L288.0,314.48 L291.8,314.38 L295.6,314.32 L299.5,314.30 L303.3,314.35 L307.1,314.48 L310.9,314.68 L314.7,314.93 L318.6,315.22 L322.4,315.53 L326.2,315.86 L330.0,316.18 L333.8,316.48 L337.7,316.75 L341.5,316.99 L345.3,317.21 L349.1,317.43 L352.9,317.64 L356.8,317.86 L360.6,318.07 L364.4,318.28 L368.2,318.49 L372.1,318.70 L375.9,318.90 L379.7,319.10 L383.5,319.30 L387.3,319.49 L391.2,319.69 L395.0,319.87 L398.8,320.06 L402.6,320.24 L406.4,320.42 L410.3,320.60 L411.1,324.07 L416.4,324.55 L421.8,325.03 L427.1,325.50 L432.5,325.96 L437.8,326.41 L443.2,326.84 L448.5,327.27 L453.9,327.67 L459.3,328.06 L464.6,328.43 L470.0,328.78 L475.3,329.10 L480.7,329.40 L486.0,329.68 L491.4,329.93 L496.7,330.14 L502.1,330.35 L507.4,330.54 L512.8,330.72 L518.2,330.89 L523.5,331.05 L528.9,331.21 L534.2,331.36 L539.6,331.50 L544.9,331.64 L550.3,331.77 L555.6,331.90 L561.0,332.02 L566.4,332.14 L571.7,332.26 L577.1,332.37 L582.4,332.49 L587.8,332.60 L593.1,332.71 L598.5,332.83 L603.8,332.94 L609.2,333.06 L614.5,333.18 L619.9,333.29 L621.4,401.3 L66.8,401.3Z" fill="#f0f0ff"/>
<path d="M67.8,335.17 L71.5,334.67 L75.3,334.18 L79.0,333.69 L82.8,333.21 L86.5,332.74 L90.3,332.27 L94.0,331.81 L97.8,331.36 L101.5,330.92 L105.3,330.48 L109.0,330.05 L112.8,329.63 L116.5,329.21 L120.3,328.81 L124.0,328.41 L127.8,328.02 L131.5,327.64 L135.3,327.26 L139.0,326.90 L142.8,326.54 L146.5,326.20 L150.3,325.86 L154.0,325.53 L157.8,325.22 L161.5,324.91 L165.3,324.61 L169.0,324.33 L172.8,324.06 L176.5,323.80 L180.3,323.55 L184.0,323.31 L187.8,323.09 L191.5,322.89 L195.3,322.70 L199.0,322.53 L202.8,322.38 L206.5,322.25 L210.3,322.15 L214.0,322.10 L218.4,322.13 L222.9,322.22 L227.3,322.34 L231.7,322.50 L236.2,322.70 L240.6,322.94 L245.0,323.21 L249.4,323.51 L253.9,323.84 L258.3,324.21 L262.7,324.60 L263.5,328.22 L267.4,327.84 L271.2,327.52 L275.0,327.24 L278.8,327.00 L282.6,326.80 L286.5,326.64 L290.3,326.52 L294.1,326.45 L297.9,326.41 L301.7,326.41 L305.6,326.49 L309.4,326.65 L313.2,326.87 L317.0,327.13 L320.8,327.43 L324.7,327.74 L328.5,328.06 L332.3,328.37 L336.1,328.65 L339.9,328.90 L343.8,329.12 L347.6,329.33 L351.4,329.55 L355.2,329.76 L359.0,329.98 L362.9,330.19 L366.7,330.39 L370.5,330.60 L374.3,330.80 L378.1,331.01 L382.0,331.20 L385.8,331.40 L389.6,331.60 L393.4,331.79 L397.2,331.98 L401.1,332.16 L404.9,332.34 L408.7,332.52 L412.5,332.70 L413.3,336.27 L418.6,336.72 L423.9,337.16 L429.2,337.60 L434.5,338.02 L439.8,338.44 L445.1,338.85 L450.4,339.24 L455.7,339.62 L461.0,339.98 L466.3,340.32 L471.6,340.64 L476.9,340.94 L482.2,341.22 L487.5,341.47 L492.8,341.69 L498.1,341.89 L503.4,342.07 L508.7,342.25 L514.0,342.42 L519.3,342.57 L524.6,342.72 L529.9,342.87 L535.1,343.00 L540.4,343.14 L545.7,343.26 L551.0,343.38 L556.3,343.50 L561.6,343.61 L566.9,343.72 L572.2,343.83 L577.5,343.94 L582.8,344.04 L588.1,344.15 L593.4,344.25 L598.7,344.36 L604.0,344.46 L609.3,344.57 L614.6,344.68 L619.9,344.78 L621.4,401.3 L66.8,401.3Z" fill="#b0b0ff"/>
<path d="M67.8,349.17 L71.5,348.66 L75.3,348.16 L79.0,347.66 L82.8,347.17 L86.5,346.69 L90.3,346.21 L94.0,345.74 L97.8,345.28 L101.5,344.82 L105.3,344.38 L109.0,343.94 L112.8,343.50 L116.5,343.08 L120.3,342.66 L124.0,342.26 L127.8,341.86 L131.5,341.47 L135.3,341.08 L139.0,340.71 L142.8,340.35 L146.5,339.99 L150.3,339.65 L154.0,339.31 L157.8,338.99 L161.5,338.68 L165.3,338.37 L169.0,338.08 L172.8,337.80 L176.5,337.54 L180.3,337.28 L184.0,337.04 L187.8,336.82 L191.5,336.61 L195.3,336.41 L199.0,336.24 L202.8,336.09 L206.5,335.96 L210.3,335.85 L214.0,335.80 L218.7,335.84 L223.3,335.93 L228.0,336.07 L232.7,336.25 L237.3,336.48 L242.0,336.74 L246.7,337.04 L251.3,337.38 L256.0,337.75 L260.7,338.16 L265.3,338.60 L266.1,341.92 L269.9,341.55 L273.8,341.22 L277.6,340.93 L281.4,340.69 L285.2,340.48 L289.0,340.32 L292.8,340.20 L296.7,340.13 L300.5,340.10 L304.3,340.13 L308.1,340.23 L311.9,340.39 L315.7,340.59 L319.6,340.83 L323.4,341.10 L327.2,341.37 L331.0,341.64 L334.8,341.90 L338.6,342.13 L342.5,342.33 L346.3,342.52 L350.1,342.71 L353.9,342.91 L357.7,343.10 L361.5,343.29 L365.4,343.48 L369.2,343.66 L373.0,343.85 L376.8,344.03 L380.6,344.22 L384.4,344.40 L388.3,344.58 L392.1,344.76 L395.9,344.94 L399.7,345.11 L403.5,345.29 L407.4,345.46 L411.2,345.63 L415.0,345.80 L415.8,349.67 L421.0,350.11 L426.3,350.55 L431.5,350.98 L436.7,351.40 L442.0,351.81 L447.2,352.21 L452.4,352.60 L457.7,352.97 L462.9,353.33 L468.1,353.67 L473.4,353.99 L478.6,354.29 L483.8,354.57 L489.1,354.82 L494.3,355.05 L499.5,355.25 L504.8,355.45 L510.0,355.63 L515.2,355.81 L520.5,355.98 L525.7,356.14 L530.9,356.29 L536.2,356.44 L541.4,356.58 L546.6,356.72 L551.9,356.85 L557.1,356.98 L562.3,357.11 L567.6,357.23 L572.8,357.35 L578.0,357.46 L583.3,357.58 L588.5,357.69 L593.7,357.81 L599.0,357.92 L604.2,358.04 L609.4,358.16 L614.7,358.28 L619.9,358.39 L621.4,401.3 L66.8,401.3Z" fill="#dcdcff"/>
<path d="M67.8,370.39 L71.5,369.85 L75.3,369.32 L79.0,368.80 L82.8,368.29 L86.5,367.78 L90.3,367.29 L94.0,366.79 L97.8,366.31 L101.5,365.84 L105.3,365.37 L109.0,364.91 L112.8,364.46 L116.5,364.01 L120.3,363.58 L124.0,363.15 L127.8,362.73 L131.5,362.33 L135.3,361.93 L139.0,361.54 L142.8,361.16 L146.5,360.79 L150.3,360.43 L154.0,360.08 L157.8,359.74 L161.5,359.41 L165.3,359.09 L169.0,358.79 L172.8,358.50 L176.5,358.22 L180.3,357.95 L184.0,357.70 L187.8,357.46 L191.5,357.24 L195.3,357.04 L199.0,356.86 L202.8,356.70 L206.5,356.56 L210.3,356.46 L214.0,356.40 L219.0,356.44 L224.0,356.53 L229.1,356.67 L234.1,356.86 L239.1,357.09 L244.1,357.36 L249.2,357.66 L254.2,358.01 L259.2,358.39 L264.2,358.80 L269.3,359.25 L270.1,363.50 L273.9,363.07 L277.7,362.69 L281.5,362.36 L285.3,362.08 L289.2,361.85 L293.0,361.68 L296.8,361.57 L300.6,361.51 L304.4,361.51 L308.3,361.61 L312.1,361.79 L315.9,362.03 L319.7,362.33 L323.5,362.65 L327.3,362.98 L331.2,363.30 L335.0,363.59 L338.8,363.84 L342.6,364.03 L346.4,364.23 L350.3,364.42 L354.1,364.60 L357.9,364.79 L361.7,364.97 L365.5,365.15 L369.4,365.32 L373.2,365.49 L377.0,365.66 L380.8,365.82 L384.6,365.98 L388.4,366.13 L392.3,366.27 L396.1,366.41 L399.9,366.54 L403.7,366.67 L407.5,366.79 L411.4,366.90 L415.2,367.00 L419.0,367.10 L419.8,371.48 L424.9,372.02 L430.1,372.56 L435.2,373.08 L440.3,373.60 L445.4,374.10 L450.6,374.59 L455.7,375.06 L460.8,375.50 L466.0,375.91 L471.1,376.29 L476.2,376.64 L481.4,376.96 L486.5,377.23 L491.6,377.46 L496.8,377.64 L501.9,377.80 L507.0,377.95 L512.2,378.09 L517.3,378.22 L522.4,378.34 L527.5,378.46 L532.7,378.57 L537.8,378.67 L542.9,378.77 L548.1,378.86 L553.2,378.95 L558.3,379.03 L563.5,379.11 L568.6,379.19 L573.7,379.27 L578.9,379.34 L584.0,379.42 L589.1,379.49 L594.2,379.57 L599.4,379.64 L604.5,379.72 L609.6,379.80 L614.8,379.89 L619.9,379.97 L621.4,401.3 L66.8,401.3Z" fill="#9898ff"/>
<path d="M67.8,389.19 L71.5,388.65 L75.3,388.12 L79.0,387.60 L82.8,387.09 L86.5,386.58 L90.3,386.09 L94.0,385.59 L97.8,385.11 L101.5,384.64 L105.3,384.17 L109.0,383.71 L112.8,383.26 L116.5,382.81 L120.3,382.38 L124.0,381.95 L127.8,381.53 L131.5,381.13 L135.3,380.73 L139.0,380.34 L142.8,379.96 L146.5,379.59 L150.3,379.23 L154.0,378.88 L157.8,378.54 L161.5,378.21 L165.3,377.89 L169.0,377.59 L172.8,377.30 L176.5,377.02 L180.3,376.75 L184.0,376.50 L187.8,376.26 L191.5,376.04 L195.3,375.84 L199.0,375.66 L202.8,375.50 L206.5,375.36 L210.3,375.26 L214.0,375.20 L219.3,375.24 L224.7,375.35 L230.0,375.51 L235.4,375.72 L240.7,375.97 L246.0,376.27 L251.4,376.62 L256.7,377.00 L262.1,377.43 L267.4,377.90 L272.8,378.40 L273.6,381.66 L277.4,381.25 L281.2,380.90 L285.0,380.60 L288.8,380.35 L292.6,380.15 L296.5,380.01 L300.3,379.93 L304.1,379.90 L307.9,379.95 L311.7,380.09 L315.6,380.30 L319.4,380.57 L323.2,380.86 L327.0,381.18 L330.8,381.49 L334.6,381.77 L338.5,382.02 L342.3,382.22 L346.1,382.41 L349.9,382.60 L353.7,382.78 L357.6,382.97 L361.4,383.15 L365.2,383.33 L369.0,383.50 L372.8,383.67 L376.6,383.84 L380.5,384.01 L384.3,384.17 L388.1,384.32 L391.9,384.48 L395.7,384.62 L399.5,384.77 L403.4,384.90 L407.2,385.03 L411.0,385.16 L414.8,385.28 L418.6,385.39 L422.5,385.50 L423.3,390.29 L428.3,390.84 L433.3,391.38 L438.4,391.92 L443.4,392.45 L448.5,392.96 L453.5,393.46 L458.5,393.93 L463.6,394.39 L468.6,394.81 L473.7,395.21 L478.7,395.57 L483.8,395.90 L488.8,396.18 L493.8,396.43 L498.9,396.63 L503.9,396.82 L509.0,397.00 L514.0,397.17 L519.1,397.33 L524.1,397.49 L529.1,397.63 L534.2,397.77 L539.2,397.90 L544.3,398.02 L549.3,398.14 L554.4,398.25 L559.4,398.36 L564.4,398.47 L569.5,398.57 L574.5,398.67 L579.6,398.77 L584.6,398.87 L589.6,398.97 L594.7,399.07 L599.7,399.17 L604.8,399.27 L609.8,399.38 L614.9,399.48 L619.9,399.59 L621.4,401.3 L66.8,401.3Z" fill="#b8b8ff"/>
</g>
<rect x="69.85" y="76.50" width="548.40" height="319.75" fill="none" stroke="#000" stroke-width="3.0"/>
<line x1="69.85" y1="65.40" x2="69.85" y2="76.50" stroke="#000" stroke-width="3.0"/>
<line x1="130.75" y1="65.40" x2="130.75" y2="76.50" stroke="#000" stroke-width="3.0"/>
<line x1="191.65" y1="65.40" x2="191.65" y2="76.50" stroke="#000" stroke-width="3.0"/>
<line x1="252.55" y1="65.40" x2="252.55" y2="76.50" stroke="#000" stroke-width="3.0"/>
<line x1="313.45" y1="65.40" x2="313.45" y2="76.50" stroke="#000" stroke-width="3.0"/>
<line x1="374.35" y1="65.40" x2="374.35" y2="76.50" stroke="#000" stroke-width="3.0"/>
<line x1="435.25" y1="65.40" x2="435.25" y2="76.50" stroke="#000" stroke-width="3.0"/>
<line x1="496.15" y1="65.40" x2="496.15" y2="76.50" stroke="#000" stroke-width="3.0"/>
<line x1="557.05" y1="65.40" x2="557.05" y2="76.50" stroke="#000" stroke-width="3.0"/>
<line x1="617.95" y1="65.40" x2="617.95" y2="76.50" stroke="#000" stroke-width="3.0"/>
<line x1="59.10" y1="76.50" x2="69.85" y2="76.50" stroke="#000" stroke-width="3.0"/>
<line x1="59.10" y1="183.08" x2="69.85" y2="183.08" stroke="#000" stroke-width="3.0"/>
<line x1="59.10" y1="289.66" x2="69.85" y2="289.66" stroke="#000" stroke-width="3.0"/>
<line x1="59.10" y1="396.24" x2="69.85" y2="396.24" stroke="#000" stroke-width="3.0"/>
<clipPath id="cb"><rect x="827.95" y="79.35" width="534.55" height="317.70"/></clipPath>
<g clip-path="url(#cb)" shape-rendering="crispEdges">
<rect x="827.95" y="79.35" width="534.55" height="317.70" fill="#ff0c0c"/>
<rect x="827.95" y="89.61" width="534.55" height="309.44" fill="#f6f6ff"/>
<rect x="827.95" y="100.56" width="534.55" height="298.49" fill="#fffcfc"/>
<rect x="827.95" y="111.76" width="534.55" height="287.29" fill="#dcdcfc"/>
<path d="M826.1,124.56 L829.8,124.35 L833.6,124.15 L837.3,123.94 L841.1,123.74 L844.8,123.54 L848.6,123.35 L852.3,123.15 L856.1,122.97 L859.8,122.78 L863.6,122.60 L867.3,122.42 L871.1,122.24 L874.8,122.06 L878.6,121.89 L882.3,121.73 L886.1,121.56 L889.8,121.40 L893.6,121.25 L897.3,121.09 L901.1,120.94 L904.8,120.80 L908.6,120.66 L912.3,120.52 L916.1,120.39 L919.8,120.26 L923.6,120.13 L927.3,120.01 L931.1,119.90 L934.8,119.79 L938.6,119.69 L942.3,119.59 L946.1,119.50 L949.8,119.41 L953.6,119.33 L957.3,119.26 L961.1,119.20 L964.8,119.14 L968.6,119.10 L972.3,119.08 L972.9,119.08 L973.4,119.08 L973.9,119.08 L974.5,119.08 L975.0,119.08 L975.5,119.08 L976.1,119.08 L976.6,119.08 L977.1,119.08 L977.7,119.08 L978.2,119.08 L979.0,124.17 L982.7,123.80 L986.4,123.45 L990.1,123.12 L993.9,122.82 L997.6,122.54 L1001.3,122.28 L1005.0,122.05 L1008.8,121.84 L1012.5,121.65 L1016.2,121.49 L1019.9,121.36 L1023.7,121.25 L1027.4,121.16 L1031.1,121.11 L1034.8,121.08 L1038.6,121.07 L1042.3,121.10 L1046.0,121.15 L1049.7,121.24 L1053.5,121.34 L1057.2,121.48 L1060.9,121.63 L1064.6,121.80 L1068.4,121.98 L1072.1,122.18 L1075.8,122.40 L1079.5,122.62 L1083.3,122.85 L1087.0,123.08 L1090.7,123.32 L1094.4,123.58 L1098.2,123.89 L1101.9,124.24 L1105.6,124.64 L1109.3,125.08 L1113.1,125.54 L1116.8,126.03 L1120.5,126.53 L1124.2,127.04 L1125.0,130.86 L1131.2,131.12 L1137.3,131.37 L1143.4,131.62 L1149.5,131.87 L1155.7,132.12 L1161.8,132.37 L1167.9,132.61 L1174.1,132.85 L1180.2,133.09 L1186.3,133.33 L1192.5,133.56 L1198.6,133.80 L1204.7,134.03 L1210.9,134.25 L1217.0,134.48 L1223.1,134.70 L1229.2,134.92 L1235.4,135.14 L1241.5,135.35 L1247.6,135.57 L1253.8,135.78 L1259.9,135.98 L1266.0,136.19 L1272.2,136.40 L1278.3,136.60 L1284.4,136.80 L1290.5,137.00 L1296.7,137.20 L1302.8,137.40 L1308.9,137.59 L1315.1,137.78 L1321.2,137.97 L1327.3,138.15 L1333.5,138.33 L1339.6,138.51 L1345.7,138.69 L1351.9,138.86 L1358.0,139.03 L1364.1,139.20 L1365.5,402.1 L825.0,402.1Z" fill="#e6e6ff"/>
<path d="M826.1,142.99 L829.9,142.76 L833.7,142.53 L837.5,142.30 L841.3,142.08 L845.1,141.86 L848.9,141.64 L852.7,141.43 L856.5,141.22 L860.3,141.01 L864.1,140.80 L867.9,140.60 L871.7,140.41 L875.5,140.21 L879.3,140.02 L883.1,139.84 L886.9,139.66 L890.7,139.48 L894.5,139.31 L898.4,139.14 L902.2,138.97 L906.0,138.81 L909.8,138.65 L913.6,138.50 L917.4,138.35 L921.2,138.21 L925.0,138.07 L928.8,137.94 L932.6,137.81 L936.4,137.69 L940.2,137.57 L944.0,137.46 L947.8,137.36 L951.6,137.27 L955.4,137.18 L959.2,137.10 L963.0,137.03 L966.8,136.97 L970.6,136.92 L974.4,136.90 L975.1,136.90 L975.7,136.90 L976.4,136.90 L977.0,136.90 L977.6,136.90 L978.3,136.90 L978.9,136.90 L979.6,136.90 L980.2,136.90 L980.9,136.90 L981.5,136.90 L982.3,142.80 L986.0,142.46 L989.8,142.15 L993.5,141.85 L997.2,141.58 L1000.9,141.33 L1004.7,141.10 L1008.4,140.89 L1012.1,140.71 L1015.8,140.55 L1019.6,140.41 L1023.3,140.30 L1027.0,140.21 L1030.7,140.14 L1034.5,140.10 L1038.2,140.08 L1041.9,140.09 L1045.6,140.14 L1049.3,140.20 L1053.1,140.29 L1056.8,140.41 L1060.5,140.54 L1064.2,140.70 L1068.0,140.86 L1071.7,141.04 L1075.4,141.24 L1079.1,141.44 L1082.9,141.64 L1086.6,141.85 L1090.3,142.07 L1094.0,142.29 L1097.8,142.55 L1101.5,142.85 L1105.2,143.18 L1108.9,143.55 L1112.7,143.93 L1116.4,144.34 L1120.1,144.77 L1123.8,145.21 L1127.6,145.66 L1128.3,148.69 L1134.4,149.01 L1140.4,149.34 L1146.5,149.65 L1152.5,149.96 L1158.6,150.27 L1164.6,150.57 L1170.7,150.86 L1176.7,151.15 L1182.7,151.43 L1188.8,151.71 L1194.8,151.98 L1200.9,152.24 L1206.9,152.49 L1213.0,152.73 L1219.0,152.97 L1225.1,153.20 L1231.1,153.42 L1237.2,153.63 L1243.2,153.83 L1249.3,154.02 L1255.3,154.21 L1261.3,154.39 L1267.4,154.57 L1273.4,154.74 L1279.5,154.90 L1285.5,155.06 L1291.6,155.22 L1297.6,155.37 L1303.7,155.52 L1309.7,155.67 L1315.8,155.81 L1321.8,155.95 L1327.8,156.09 L1333.9,156.23 L1339.9,156.36 L1346.0,156.50 L1352.0,156.63 L1358.1,156.77 L1364.1,156.89 L1365.5,402.1 L825.0,402.1Z" fill="#b4b4fa"/>
<path d="M826.1,165.40 L829.9,165.15 L833.7,164.90 L837.5,164.65 L841.3,164.41 L845.1,164.17 L848.9,163.94 L852.7,163.70 L856.5,163.48 L860.3,163.25 L864.1,163.03 L867.9,162.81 L871.7,162.60 L875.5,162.39 L879.3,162.19 L883.1,161.99 L886.9,161.79 L890.7,161.60 L894.5,161.41 L898.4,161.22 L902.2,161.04 L906.0,160.87 L909.8,160.70 L913.6,160.53 L917.4,160.37 L921.2,160.22 L925.0,160.07 L928.8,159.93 L932.6,159.79 L936.4,159.66 L940.2,159.53 L944.0,159.41 L947.8,159.30 L951.6,159.20 L955.4,159.10 L959.2,159.02 L963.0,158.94 L966.8,158.88 L970.6,158.83 L974.4,158.80 L975.4,158.80 L976.4,158.80 L977.4,158.80 L978.4,158.80 L979.4,158.80 L980.4,158.80 L981.4,158.80 L982.4,158.80 L983.4,158.80 L984.4,158.80 L985.4,158.80 L986.2,163.60 L989.9,163.27 L993.7,162.96 L997.4,162.68 L1001.1,162.42 L1004.8,162.19 L1008.5,161.99 L1012.3,161.81 L1016.0,161.65 L1019.7,161.52 L1023.4,161.41 L1027.2,161.32 L1030.9,161.25 L1034.6,161.21 L1038.3,161.19 L1042.0,161.19 L1045.8,161.24 L1049.5,161.33 L1053.2,161.46 L1056.9,161.62 L1060.6,161.81 L1064.4,162.02 L1068.1,162.25 L1071.8,162.49 L1075.5,162.74 L1079.2,163.00 L1083.0,163.25 L1086.7,163.49 L1090.4,163.72 L1094.1,163.94 L1097.9,164.17 L1101.6,164.40 L1105.3,164.65 L1109.0,164.90 L1112.7,165.15 L1116.5,165.41 L1120.2,165.68 L1123.9,165.95 L1127.6,166.23 L1131.3,166.51 L1132.1,169.41 L1138.1,169.85 L1144.0,170.28 L1150.0,170.71 L1155.9,171.13 L1161.9,171.53 L1167.8,171.93 L1173.8,172.32 L1179.7,172.70 L1185.7,173.06 L1191.6,173.42 L1197.6,173.76 L1203.5,174.08 L1209.5,174.39 L1215.4,174.69 L1221.4,174.96 L1227.3,175.22 L1233.2,175.47 L1239.2,175.69 L1245.1,175.89 L1251.1,176.09 L1257.0,176.27 L1263.0,176.45 L1268.9,176.61 L1274.9,176.77 L1280.8,176.92 L1286.8,177.07 L1292.7,177.21 L1298.7,177.35 L1304.6,177.48 L1310.6,177.61 L1316.5,177.73 L1322.5,177.85 L1328.4,177.97 L1334.4,178.09 L1340.3,178.21 L1346.3,178.33 L1352.2,178.45 L1358.2,178.57 L1364.1,178.69 L1365.5,402.1 L825.0,402.1Z" fill="#c4c4fc"/>
<path d="M826.1,185.28 L829.9,184.89 L833.7,184.51 L837.5,184.14 L841.3,183.77 L845.1,183.41 L848.9,183.05 L852.7,182.70 L856.5,182.35 L860.3,182.01 L864.1,181.67 L867.9,181.34 L871.7,181.02 L875.5,180.70 L879.3,180.38 L883.1,180.08 L886.9,179.78 L890.7,179.48 L894.5,179.20 L898.4,178.92 L902.2,178.64 L906.0,178.38 L909.8,178.12 L913.6,177.87 L917.4,177.62 L921.2,177.39 L925.0,177.16 L928.8,176.94 L932.6,176.73 L936.4,176.53 L940.2,176.34 L944.0,176.16 L947.8,175.99 L951.6,175.83 L955.4,175.69 L959.2,175.55 L963.0,175.44 L966.8,175.34 L970.6,175.27 L974.4,175.22 L975.7,175.22 L977.0,175.22 L978.2,175.22 L979.5,175.22 L980.8,175.22 L982.0,175.22 L983.3,175.22 L984.6,175.22 L985.9,175.22 L987.1,175.22 L988.4,175.22 L989.2,179.63 L992.9,179.29 L996.6,178.99 L1000.4,178.72 L1004.1,178.47 L1007.8,178.26 L1011.6,178.08 L1015.3,177.92 L1019.0,177.79 L1022.7,177.69 L1026.5,177.60 L1030.2,177.54 L1033.9,177.50 L1037.7,177.47 L1041.4,177.46 L1045.1,177.50 L1048.8,177.59 L1052.6,177.74 L1056.3,177.93 L1060.0,178.16 L1063.7,178.42 L1067.5,178.71 L1071.2,179.02 L1074.9,179.34 L1078.7,179.66 L1082.4,179.98 L1086.1,180.29 L1089.8,180.59 L1093.6,180.86 L1097.3,181.14 L1101.0,181.43 L1104.8,181.72 L1108.5,182.02 L1112.2,182.33 L1115.9,182.64 L1119.7,182.96 L1123.4,183.28 L1127.1,183.61 L1130.8,183.95 L1134.6,184.28 L1135.4,187.12 L1141.2,187.53 L1147.1,187.93 L1153.0,188.32 L1158.8,188.70 L1164.7,189.07 L1170.5,189.44 L1176.4,189.80 L1182.3,190.15 L1188.1,190.49 L1194.0,190.81 L1199.9,191.13 L1205.7,191.43 L1211.6,191.72 L1217.5,192.00 L1223.3,192.27 L1229.2,192.52 L1235.1,192.75 L1240.9,192.97 L1246.8,193.18 L1252.7,193.37 L1258.5,193.56 L1264.4,193.74 L1270.3,193.91 L1276.1,194.07 L1282.0,194.23 L1287.9,194.39 L1293.7,194.54 L1299.6,194.68 L1305.5,194.82 L1311.3,194.96 L1317.2,195.09 L1323.1,195.22 L1328.9,195.35 L1334.8,195.48 L1340.7,195.61 L1346.5,195.74 L1352.4,195.86 L1358.3,195.99 L1364.1,196.12 L1365.5,402.1 L825.0,402.1Z" fill="#8080fc"/>
<path d="M826.1,199.52 L829.9,199.12 L833.7,198.73 L837.5,198.35 L841.3,197.97 L845.1,197.59 L848.9,197.22 L852.7,196.86 L856.5,196.50 L860.3,196.15 L864.1,195.80 L867.9,195.46 L871.7,195.13 L875.5,194.80 L879.3,194.48 L883.1,194.16 L886.9,193.85 L890.7,193.55 L894.5,193.25 L898.4,192.97 L902.2,192.68 L906.0,192.41 L909.8,192.14 L913.6,191.88 L917.4,191.63 L921.2,191.39 L925.0,191.15 L928.8,190.93 L932.6,190.71 L936.4,190.51 L940.2,190.31 L944.0,190.12 L947.8,189.95 L951.6,189.79 L955.4,189.64 L959.2,189.50 L963.0,189.38 L966.8,189.28 L970.6,189.20 L974.4,189.16 L975.9,189.16 L977.4,189.16 L979.0,189.16 L980.5,189.16 L982.0,189.16 L983.5,189.16 L985.0,189.16 L986.5,189.16 L988.0,189.16 L989.5,189.16 L991.1,189.16 L991.8,194.56 L995.6,194.21 L999.3,193.90 L1003.0,193.62 L1006.7,193.37 L1010.5,193.16 L1014.2,192.98 L1017.9,192.82 L1021.7,192.70 L1025.4,192.59 L1029.1,192.51 L1032.8,192.46 L1036.6,192.42 L1040.3,192.40 L1044.0,192.40 L1047.7,192.47 L1051.5,192.61 L1055.2,192.80 L1058.9,193.04 L1062.7,193.31 L1066.4,193.62 L1070.1,193.95 L1073.8,194.28 L1077.6,194.62 L1081.3,194.95 L1085.0,195.26 L1088.7,195.55 L1092.5,195.81 L1096.2,196.05 L1099.9,196.29 L1103.7,196.53 L1107.4,196.77 L1111.1,197.00 L1114.8,197.24 L1118.6,197.47 L1122.3,197.71 L1126.0,197.94 L1129.7,198.17 L1133.5,198.39 L1137.2,198.62 L1138.0,201.64 L1143.8,201.91 L1149.6,202.17 L1155.4,202.43 L1161.2,202.68 L1167.0,202.93 L1172.8,203.18 L1178.6,203.43 L1184.4,203.67 L1190.2,203.91 L1196.0,204.14 L1201.8,204.37 L1207.6,204.60 L1213.4,204.82 L1219.2,205.04 L1225.0,205.25 L1230.8,205.46 L1236.6,205.67 L1242.4,205.86 L1248.1,206.06 L1253.9,206.25 L1259.7,206.44 L1265.5,206.62 L1271.3,206.81 L1277.1,206.99 L1282.9,207.16 L1288.7,207.33 L1294.5,207.50 L1300.3,207.67 L1306.1,207.84 L1311.9,208.00 L1317.7,208.16 L1323.5,208.32 L1329.3,208.48 L1335.1,208.63 L1340.9,208.78 L1346.7,208.93 L1352.5,209.08 L1358.3,209.23 L1364.1,209.37 L1365.5,402.1 L825.0,402.1Z" fill="#a0a0fc"/>
<path d="M826.1,206.17 L829.9,205.81 L833.7,205.45 L837.5,205.09 L841.3,204.74 L845.1,204.40 L848.9,204.06 L852.7,203.72 L856.5,203.39 L860.3,203.07 L864.1,202.75 L867.9,202.43 L871.7,202.13 L875.5,201.82 L879.3,201.53 L883.1,201.24 L886.9,200.95 L890.7,200.67 L894.5,200.40 L898.4,200.13 L902.2,199.87 L906.0,199.62 L909.8,199.37 L913.6,199.14 L917.4,198.90 L921.2,198.68 L925.0,198.46 L928.8,198.26 L932.6,198.06 L936.4,197.87 L940.2,197.69 L944.0,197.51 L947.8,197.35 L951.6,197.20 L955.4,197.07 L959.2,196.94 L963.0,196.83 L966.8,196.74 L970.6,196.67 L974.4,196.63 L976.0,196.63 L977.7,196.63 L979.3,196.63 L980.9,196.63 L982.6,196.63 L984.2,196.63 L985.8,196.63 L987.4,196.63 L989.1,196.63 L990.7,196.63 L992.3,196.63 L993.1,200.95 L996.8,200.66 L1000.5,200.41 L1004.3,200.18 L1008.0,199.97 L1011.7,199.79 L1015.4,199.64 L1019.1,199.50 L1022.9,199.39 L1026.6,199.29 L1030.3,199.22 L1034.0,199.17 L1037.8,199.13 L1041.5,199.12 L1045.2,199.13 L1048.9,199.18 L1052.6,199.28 L1056.4,199.41 L1060.1,199.58 L1063.8,199.77 L1067.5,199.98 L1071.3,200.21 L1075.0,200.44 L1078.7,200.68 L1082.4,200.91 L1086.1,201.13 L1089.9,201.33 L1093.6,201.52 L1097.3,201.70 L1101.0,201.89 L1104.7,202.08 L1108.5,202.27 L1112.2,202.46 L1115.9,202.66 L1119.6,202.85 L1123.4,203.05 L1127.1,203.24 L1130.8,203.44 L1134.5,203.64 L1138.2,203.85 L1139.0,207.82 L1144.8,208.14 L1150.6,208.45 L1156.3,208.76 L1162.1,209.07 L1167.9,209.36 L1173.6,209.65 L1179.4,209.94 L1185.2,210.21 L1191.0,210.48 L1196.7,210.74 L1202.5,210.99 L1208.3,211.23 L1214.1,211.46 L1219.8,211.69 L1225.6,211.90 L1231.4,212.09 L1237.1,212.28 L1242.9,212.45 L1248.7,212.62 L1254.5,212.78 L1260.2,212.93 L1266.0,213.07 L1271.8,213.21 L1277.5,213.34 L1283.3,213.47 L1289.1,213.60 L1294.9,213.72 L1300.6,213.84 L1306.4,213.95 L1312.2,214.06 L1317.9,214.17 L1323.7,214.28 L1329.5,214.39 L1335.3,214.49 L1341.0,214.60 L1346.8,214.70 L1352.6,214.81 L1358.3,214.92 L1364.1,215.02 L1365.5,402.1 L825.0,402.1Z" fill="#7070ff"/>
<path d="M826.1,208.77 L829.9,208.39 L833.7,208.00 L837.5,207.62 L841.3,207.25 L845.1,206.88 L848.9,206.52 L852.7,206.17 L856.5,205.81 L860.3,205.47 L864.1,205.13 L867.9,204.80 L871.7,204.47 L875.5,204.15 L879.3,203.83 L883.1,203.52 L886.9,203.22 L890.7,202.92 L894.5,202.63 L898.4,202.35 L902.2,202.07 L906.0,201.80 L909.8,201.54 L913.6,201.29 L917.4,201.04 L921.2,200.80 L925.0,200.57 L928.8,200.35 L932.6,200.14 L936.4,199.94 L940.2,199.74 L944.0,199.56 L947.8,199.39 L951.6,199.23 L955.4,199.08 L959.2,198.95 L963.0,198.84 L966.8,198.74 L970.6,198.66 L974.4,198.62 L976.1,198.62 L977.7,198.62 L979.4,198.62 L981.1,198.62 L982.7,198.62 L984.4,198.62 L986.1,198.62 L987.7,198.62 L989.4,198.62 L991.0,198.62 L992.7,198.62 L993.5,203.13 L997.2,202.81 L1000.9,202.52 L1004.6,202.26 L1008.4,202.03 L1012.1,201.82 L1015.8,201.63 L1019.5,201.47 L1023.2,201.33 L1027.0,201.22 L1030.7,201.13 L1034.4,201.07 L1038.1,201.03 L1041.8,201.01 L1045.6,201.02 L1049.3,201.08 L1053.0,201.18 L1056.7,201.32 L1060.4,201.49 L1064.2,201.68 L1067.9,201.90 L1071.6,202.12 L1075.3,202.36 L1079.1,202.59 L1082.8,202.82 L1086.5,203.04 L1090.2,203.24 L1093.9,203.42 L1097.7,203.61 L1101.4,203.79 L1105.1,203.98 L1108.8,204.16 L1112.5,204.35 L1116.3,204.54 L1120.0,204.73 L1123.7,204.92 L1127.4,205.11 L1131.1,205.30 L1134.9,205.49 L1138.6,205.69 L1139.4,209.71 L1145.1,210.03 L1150.9,210.34 L1156.6,210.64 L1162.4,210.94 L1168.2,211.24 L1173.9,211.53 L1179.7,211.81 L1185.5,212.08 L1191.2,212.35 L1197.0,212.61 L1202.8,212.86 L1208.5,213.10 L1214.3,213.34 L1220.0,213.56 L1225.8,213.77 L1231.6,213.98 L1237.3,214.17 L1243.1,214.35 L1248.9,214.52 L1254.6,214.69 L1260.4,214.85 L1266.1,215.00 L1271.9,215.15 L1277.7,215.30 L1283.4,215.44 L1289.2,215.57 L1295.0,215.70 L1300.7,215.83 L1306.5,215.96 L1312.2,216.08 L1318.0,216.20 L1323.8,216.31 L1329.5,216.43 L1335.3,216.55 L1341.1,216.66 L1346.8,216.78 L1352.6,216.89 L1358.4,217.00 L1364.1,217.11 L1365.5,402.1 L825.0,402.1Z" fill="#a0a0fc"/>
<path d="M826.1,214.65 L829.9,214.25 L833.7,213.86 L837.5,213.48 L841.3,213.10 L845.1,212.72 L848.9,212.35 L852.7,211.99 L856.5,211.63 L860.3,211.28 L864.1,210.93 L867.9,210.59 L871.7,210.26 L875.5,209.93 L879.3,209.61 L883.1,209.29 L886.9,208.98 L890.7,208.68 L894.5,208.39 L898.4,208.10 L902.2,207.82 L906.0,207.54 L909.8,207.27 L913.6,207.01 L917.4,206.76 L921.2,206.52 L925.0,206.29 L928.8,206.06 L932.6,205.84 L936.4,205.64 L940.2,205.44 L944.0,205.26 L947.8,205.08 L951.6,204.92 L955.4,204.77 L959.2,204.63 L963.0,204.51 L966.8,204.41 L970.6,204.34 L974.4,204.29 L976.2,204.29 L977.9,204.29 L979.7,204.29 L981.4,204.29 L983.2,204.29 L985.0,204.29 L986.7,204.29 L988.5,204.29 L990.2,204.29 L992.0,204.29 L993.7,204.29 L994.5,208.75 L998.2,208.45 L1002.0,208.17 L1005.7,207.93 L1009.4,207.73 L1013.2,207.55 L1016.9,207.40 L1020.6,207.28 L1024.3,207.18 L1028.1,207.11 L1031.8,207.05 L1035.5,207.01 L1039.3,206.99 L1043.0,206.98 L1046.7,207.01 L1050.4,207.10 L1054.2,207.26 L1057.9,207.47 L1061.6,207.72 L1065.4,208.01 L1069.1,208.32 L1072.8,208.64 L1076.5,208.97 L1080.3,209.30 L1084.0,209.62 L1087.7,209.91 L1091.5,210.17 L1095.2,210.42 L1098.9,210.67 L1102.7,210.91 L1106.4,211.16 L1110.1,211.40 L1113.8,211.65 L1117.6,211.89 L1121.3,212.14 L1125.0,212.38 L1128.8,212.62 L1132.5,212.87 L1136.2,213.11 L1139.9,213.35 L1140.7,216.97 L1146.4,217.24 L1152.2,217.50 L1157.9,217.76 L1163.6,218.02 L1169.4,218.27 L1175.1,218.52 L1180.8,218.76 L1186.5,219.00 L1192.3,219.23 L1198.0,219.46 L1203.7,219.68 L1209.5,219.89 L1215.2,220.10 L1220.9,220.30 L1226.6,220.50 L1232.4,220.69 L1238.1,220.87 L1243.8,221.04 L1249.6,221.21 L1255.3,221.37 L1261.0,221.53 L1266.7,221.69 L1272.5,221.84 L1278.2,221.98 L1283.9,222.13 L1289.7,222.27 L1295.4,222.40 L1301.1,222.54 L1306.8,222.67 L1312.6,222.80 L1318.3,222.92 L1324.0,223.05 L1329.7,223.17 L1335.5,223.29 L1341.2,223.41 L1346.9,223.53 L1352.7,223.65 L1358.4,223.77 L1364.1,223.89 L1365.5,402.1 L825.0,402.1Z" fill="#7070fc"/>
<path d="M826.1,228.63 L829.9,228.15 L833.7,227.67 L837.5,227.20 L841.3,226.73 L845.1,226.27 L848.9,225.82 L852.7,225.37 L856.5,224.94 L860.3,224.50 L864.1,224.08 L867.9,223.66 L871.7,223.25 L875.5,222.85 L879.3,222.45 L883.1,222.07 L886.9,221.69 L890.7,221.32 L894.5,220.96 L898.4,220.60 L902.2,220.26 L906.0,219.92 L909.8,219.59 L913.6,219.28 L917.4,218.97 L921.2,218.67 L925.0,218.38 L928.8,218.11 L932.6,217.84 L936.4,217.59 L940.2,217.35 L944.0,217.12 L947.8,216.91 L951.6,216.71 L955.4,216.52 L959.2,216.36 L963.0,216.21 L966.8,216.09 L970.6,215.99 L974.4,215.94 L976.4,215.94 L978.3,215.94 L980.3,215.94 L982.2,215.94 L984.2,215.94 L986.1,215.94 L988.1,215.94 L990.0,215.94 L992.0,215.94 L994.0,215.94 L995.9,215.94 L996.7,220.83 L1000.4,220.44 L1004.2,220.10 L1007.9,219.79 L1011.6,219.52 L1015.3,219.29 L1019.1,219.10 L1022.8,218.93 L1026.5,218.80 L1030.3,218.69 L1034.0,218.61 L1037.7,218.56 L1041.5,218.54 L1045.2,218.53 L1048.9,218.59 L1052.7,218.72 L1056.4,218.92 L1060.1,219.17 L1063.9,219.46 L1067.6,219.79 L1071.3,220.14 L1075.1,220.50 L1078.8,220.87 L1082.5,221.23 L1086.3,221.58 L1090.0,221.90 L1093.7,222.20 L1097.5,222.50 L1101.2,222.79 L1104.9,223.09 L1108.7,223.40 L1112.4,223.70 L1116.1,224.01 L1119.9,224.32 L1123.6,224.64 L1127.3,224.95 L1131.0,225.27 L1134.8,225.59 L1138.5,225.92 L1142.2,226.24 L1143.0,229.42 L1148.7,229.74 L1154.4,230.06 L1160.0,230.37 L1165.7,230.68 L1171.4,230.97 L1177.0,231.27 L1182.7,231.55 L1188.4,231.83 L1194.0,232.10 L1199.7,232.37 L1205.4,232.62 L1211.1,232.87 L1216.7,233.10 L1222.4,233.33 L1228.1,233.54 L1233.7,233.75 L1239.4,233.94 L1245.1,234.12 L1250.7,234.30 L1256.4,234.47 L1262.1,234.63 L1267.7,234.78 L1273.4,234.93 L1279.1,235.08 L1284.8,235.22 L1290.4,235.36 L1296.1,235.49 L1301.8,235.62 L1307.4,235.75 L1313.1,235.87 L1318.8,235.99 L1324.4,236.11 L1330.1,236.23 L1335.8,236.35 L1341.4,236.47 L1347.1,236.58 L1352.8,236.70 L1358.4,236.82 L1364.1,236.93 L1365.5,402.1 L825.0,402.1Z" fill="#c4c4fc"/>
<path d="M826.1,238.17 L829.9,237.73 L833.7,237.29 L837.5,236.86 L841.3,236.43 L845.1,236.02 L848.9,235.60 L852.7,235.20 L856.5,234.80 L860.3,234.40 L864.1,234.02 L867.9,233.63 L871.7,233.26 L875.5,232.89 L879.3,232.53 L883.1,232.18 L886.9,231.84 L890.7,231.50 L894.5,231.17 L898.4,230.84 L902.2,230.53 L906.0,230.22 L909.8,229.92 L913.6,229.63 L917.4,229.35 L921.2,229.08 L925.0,228.82 L928.8,228.57 L932.6,228.33 L936.4,228.10 L940.2,227.88 L944.0,227.67 L947.8,227.47 L951.6,227.29 L955.4,227.12 L959.2,226.97 L963.0,226.84 L966.8,226.73 L970.6,226.64 L974.4,226.59 L976.5,226.59 L978.7,226.59 L980.8,226.59 L982.9,226.59 L985.1,226.59 L987.2,226.59 L989.3,226.59 L991.4,226.59 L993.6,226.59 L995.7,226.59 L997.8,226.59 L998.6,231.14 L1002.3,230.77 L1006.1,230.44 L1009.8,230.15 L1013.5,229.90 L1017.3,229.68 L1021.0,229.49 L1024.7,229.34 L1028.4,229.22 L1032.2,229.12 L1035.9,229.05 L1039.6,229.01 L1043.4,228.98 L1047.1,228.99 L1050.8,229.07 L1054.5,229.22 L1058.3,229.43 L1062.0,229.68 L1065.7,229.98 L1069.5,230.30 L1073.2,230.64 L1076.9,230.99 L1080.6,231.33 L1084.4,231.66 L1088.1,231.97 L1091.8,232.25 L1095.6,232.51 L1099.3,232.78 L1103.0,233.04 L1106.7,233.30 L1110.5,233.57 L1114.2,233.83 L1117.9,234.09 L1121.7,234.36 L1125.4,234.62 L1129.1,234.89 L1132.8,235.15 L1136.6,235.42 L1140.3,235.68 L1144.0,235.95 L1144.8,239.39 L1150.4,239.79 L1156.1,240.19 L1161.7,240.58 L1167.3,240.96 L1172.9,241.33 L1178.6,241.70 L1184.2,242.05 L1189.8,242.40 L1195.4,242.73 L1201.0,243.04 L1206.7,243.35 L1212.3,243.64 L1217.9,243.91 L1223.5,244.17 L1229.2,244.40 L1234.8,244.62 L1240.4,244.82 L1246.0,245.01 L1251.7,245.18 L1257.3,245.34 L1262.9,245.50 L1268.5,245.64 L1274.1,245.79 L1279.8,245.92 L1285.4,246.05 L1291.0,246.17 L1296.6,246.29 L1302.3,246.41 L1307.9,246.52 L1313.5,246.63 L1319.1,246.74 L1324.8,246.84 L1330.4,246.95 L1336.0,247.05 L1341.6,247.15 L1347.2,247.26 L1352.9,247.36 L1358.5,247.47 L1364.1,247.57 L1365.5,402.1 L825.0,402.1Z" fill="#3030ff"/>
<path d="M826.1,259.95 L829.9,259.54 L833.7,259.13 L837.5,258.73 L841.3,258.33 L845.1,257.94 L848.9,257.56 L852.7,257.18 L856.5,256.80 L860.3,256.44 L864.1,256.07 L867.9,255.72 L871.7,255.37 L875.5,255.03 L879.3,254.69 L883.1,254.36 L886.9,254.04 L890.7,253.72 L894.5,253.41 L898.4,253.11 L902.2,252.82 L906.0,252.53 L909.8,252.25 L913.6,251.98 L917.4,251.72 L921.2,251.47 L925.0,251.22 L928.8,250.99 L932.6,250.76 L936.4,250.54 L940.2,250.34 L944.0,250.15 L947.8,249.96 L951.6,249.79 L955.4,249.64 L959.2,249.50 L963.0,249.37 L966.8,249.27 L970.6,249.18 L974.4,249.14 L976.9,249.14 L979.4,249.14 L981.9,249.14 L984.4,249.14 L986.9,249.14 L989.4,249.14 L991.9,249.14 L994.4,249.14 L996.9,249.14 L999.4,249.14 L1001.9,249.14 L1002.7,253.58 L1006.4,253.37 L1010.2,253.19 L1013.9,253.03 L1017.6,252.88 L1021.3,252.76 L1025.1,252.65 L1028.8,252.56 L1032.5,252.49 L1036.2,252.44 L1039.9,252.40 L1043.7,252.38 L1047.4,252.38 L1051.1,252.40 L1054.8,252.45 L1058.6,252.53 L1062.3,252.64 L1066.0,252.77 L1069.7,252.91 L1073.4,253.06 L1077.2,253.23 L1080.9,253.40 L1084.6,253.57 L1088.3,253.74 L1092.1,253.90 L1095.8,254.07 L1099.5,254.24 L1103.2,254.43 L1106.9,254.63 L1110.7,254.83 L1114.4,255.05 L1118.1,255.27 L1121.8,255.51 L1125.6,255.75 L1129.3,256.00 L1133.0,256.25 L1136.7,256.52 L1140.4,256.79 L1144.2,257.07 L1147.9,257.35 L1148.7,260.32 L1154.2,260.86 L1159.7,261.40 L1165.2,261.93 L1170.8,262.45 L1176.3,262.95 L1181.8,263.45 L1187.3,263.92 L1192.9,264.38 L1198.4,264.81 L1203.9,265.22 L1209.4,265.61 L1215.0,265.97 L1220.5,266.30 L1226.0,266.60 L1231.5,266.87 L1237.1,267.10 L1242.6,267.30 L1248.1,267.46 L1253.6,267.62 L1259.2,267.77 L1264.7,267.90 L1270.2,268.03 L1275.7,268.15 L1281.3,268.27 L1286.8,268.38 L1292.3,268.48 L1297.8,268.58 L1303.3,268.67 L1308.9,268.76 L1314.4,268.85 L1319.9,268.93 L1325.4,269.02 L1331.0,269.10 L1336.5,269.18 L1342.0,269.26 L1347.5,269.35 L1353.1,269.44 L1358.6,269.53 L1364.1,269.61 L1365.5,402.1 L825.0,402.1Z" fill="#8c8cfc"/>
<path d="M826.1,275.90 L829.9,275.46 L833.7,275.02 L837.5,274.60 L841.3,274.18 L845.1,273.76 L848.9,273.35 L852.7,272.95 L856.5,272.55 L860.3,272.16 L864.1,271.78 L867.9,271.40 L871.7,271.03 L875.5,270.67 L879.3,270.31 L883.1,269.96 L886.9,269.62 L890.7,269.28 L894.5,268.96 L898.4,268.64 L902.2,268.32 L906.0,268.02 L909.8,267.72 L913.6,267.44 L917.4,267.16 L921.2,266.89 L925.0,266.63 L928.8,266.38 L932.6,266.14 L936.4,265.91 L940.2,265.69 L944.0,265.49 L947.8,265.29 L951.6,265.11 L955.4,264.95 L959.2,264.80 L963.0,264.67 L966.8,264.55 L970.6,264.47 L974.4,264.42 L977.2,264.42 L979.9,264.43 L982.7,264.44 L985.5,264.45 L988.2,264.47 L991.0,264.49 L993.7,264.51 L996.5,264.53 L999.3,264.56 L1002.0,264.59 L1004.8,264.62 L1005.6,269.06 L1009.3,268.90 L1013.0,268.75 L1016.7,268.63 L1020.4,268.52 L1024.2,268.44 L1027.9,268.36 L1031.6,268.31 L1035.3,268.26 L1039.1,268.23 L1042.8,268.21 L1046.5,268.20 L1050.2,268.21 L1053.9,268.25 L1057.7,268.33 L1061.4,268.43 L1065.1,268.55 L1068.8,268.69 L1072.6,268.85 L1076.3,269.02 L1080.0,269.19 L1083.7,269.36 L1087.5,269.53 L1091.2,269.69 L1094.9,269.85 L1098.6,270.01 L1102.3,270.18 L1106.1,270.35 L1109.8,270.54 L1113.5,270.72 L1117.2,270.91 L1121.0,271.11 L1124.7,271.32 L1128.4,271.52 L1132.1,271.74 L1135.9,271.96 L1139.6,272.18 L1143.3,272.41 L1147.0,272.64 L1150.7,272.88 L1151.5,276.14 L1157.0,276.63 L1162.4,277.11 L1167.9,277.59 L1173.3,278.06 L1178.8,278.51 L1184.2,278.96 L1189.7,279.39 L1195.1,279.80 L1200.6,280.20 L1206.0,280.58 L1211.5,280.94 L1216.9,281.27 L1222.4,281.59 L1227.8,281.88 L1233.3,282.14 L1238.7,282.38 L1244.2,282.58 L1249.6,282.77 L1255.1,282.95 L1260.5,283.12 L1266.0,283.28 L1271.4,283.44 L1276.9,283.58 L1282.3,283.72 L1287.8,283.85 L1293.3,283.98 L1298.7,284.10 L1304.2,284.22 L1309.6,284.33 L1315.1,284.44 L1320.5,284.55 L1326.0,284.66 L1331.4,284.76 L1336.9,284.87 L1342.3,284.97 L1347.8,285.08 L1353.2,285.19 L1358.7,285.30 L1364.1,285.41 L1365.5,402.1 L825.0,402.1Z" fill="#0000ff"/>
<path d="M826.1,281.08 L829.7,280.64 L833.4,280.22 L837.1,279.79 L840.7,279.37 L844.4,278.96 L848.0,278.56 L851.7,278.16 L855.3,277.76 L859.0,277.38 L862.6,277.00 L866.3,276.62 L869.9,276.25 L873.6,275.89 L877.2,275.54 L880.9,275.19 L884.5,274.85 L888.2,274.52 L891.9,274.19 L895.5,273.88 L899.2,273.57 L902.8,273.27 L906.5,272.97 L910.1,272.69 L913.8,272.41 L917.4,272.15 L921.1,271.89 L924.7,271.64 L928.4,271.40 L932.0,271.18 L935.7,270.96 L939.3,270.75 L943.0,270.56 L946.6,270.38 L950.3,270.22 L954.0,270.07 L957.6,269.94 L961.3,269.83 L964.9,269.74 L968.6,269.70 L971.9,269.70 L975.3,269.72 L978.7,269.74 L982.1,269.76 L985.4,269.79 L988.8,269.83 L992.2,269.87 L995.6,269.92 L999.0,269.97 L1002.3,270.03 L1005.7,270.10 L1006.5,273.74 L1010.2,273.58 L1013.9,273.43 L1017.6,273.31 L1021.4,273.20 L1025.1,273.11 L1028.8,273.04 L1032.5,272.98 L1036.3,272.94 L1040.0,272.91 L1043.7,272.89 L1047.4,272.88 L1051.1,272.89 L1054.9,272.94 L1058.6,273.02 L1062.3,273.13 L1066.0,273.26 L1069.8,273.40 L1073.5,273.57 L1077.2,273.74 L1080.9,273.91 L1084.6,274.08 L1088.4,274.25 L1092.1,274.41 L1095.8,274.56 L1099.5,274.73 L1103.3,274.89 L1107.0,275.07 L1110.7,275.24 L1114.4,275.43 L1118.1,275.61 L1121.9,275.81 L1125.6,276.00 L1129.3,276.20 L1133.0,276.41 L1136.7,276.62 L1140.5,276.84 L1144.2,277.06 L1147.9,277.28 L1151.6,277.51 L1152.4,281.31 L1157.8,281.80 L1163.3,282.27 L1168.7,282.74 L1174.1,283.20 L1179.6,283.65 L1185.0,284.09 L1190.4,284.51 L1195.8,284.92 L1201.3,285.30 L1206.7,285.67 L1212.1,286.02 L1217.6,286.35 L1223.0,286.65 L1228.4,286.92 L1233.8,287.17 L1239.3,287.39 L1244.7,287.57 L1250.1,287.75 L1255.6,287.91 L1261.0,288.06 L1266.4,288.20 L1271.8,288.34 L1277.3,288.47 L1282.7,288.59 L1288.1,288.71 L1293.5,288.82 L1299.0,288.93 L1304.4,289.03 L1309.8,289.13 L1315.3,289.23 L1320.7,289.32 L1326.1,289.42 L1331.5,289.51 L1337.0,289.60 L1342.4,289.69 L1347.8,289.79 L1353.3,289.88 L1358.7,289.98 L1364.1,290.08 L1365.5,402.1 L825.0,402.1Z" fill="#2c2cff"/>
<path d="M826.1,302.01 L829.7,301.53 L833.4,301.05 L837.1,300.58 L840.7,300.11 L844.4,299.65 L848.0,299.20 L851.7,298.75 L855.3,298.31 L859.0,297.88 L862.6,297.45 L866.3,297.04 L869.9,296.63 L873.6,296.22 L877.2,295.83 L880.9,295.44 L884.5,295.06 L888.2,294.69 L891.9,294.33 L895.5,293.97 L899.2,293.63 L902.8,293.29 L906.5,292.96 L910.1,292.65 L913.8,292.34 L917.4,292.04 L921.1,291.75 L924.7,291.48 L928.4,291.21 L932.0,290.96 L935.7,290.72 L939.3,290.49 L943.0,290.27 L946.6,290.08 L950.3,289.89 L954.0,289.73 L957.6,289.58 L961.3,289.46 L964.9,289.36 L968.6,289.31 L972.3,289.33 L976.0,289.39 L979.8,289.47 L983.5,289.57 L987.2,289.71 L990.9,289.86 L994.7,290.04 L998.4,290.23 L1002.1,290.45 L1005.9,290.69 L1009.6,290.95 L1010.4,295.21 L1014.1,294.89 L1017.8,294.60 L1021.5,294.34 L1025.3,294.11 L1029.0,293.91 L1032.7,293.74 L1036.4,293.61 L1040.2,293.50 L1043.9,293.43 L1047.6,293.40 L1051.3,293.39 L1055.1,293.44 L1058.8,293.53 L1062.5,293.65 L1066.2,293.81 L1069.9,293.99 L1073.7,294.19 L1077.4,294.40 L1081.1,294.61 L1084.8,294.83 L1088.6,295.04 L1092.3,295.23 L1096.0,295.43 L1099.7,295.63 L1103.5,295.84 L1107.2,296.05 L1110.9,296.27 L1114.6,296.49 L1118.4,296.73 L1122.1,296.96 L1125.8,297.21 L1129.5,297.46 L1133.3,297.71 L1137.0,297.97 L1140.7,298.24 L1144.4,298.51 L1148.2,298.79 L1151.9,299.07 L1155.6,299.36 L1156.4,303.10 L1161.7,303.48 L1167.0,303.86 L1172.4,304.23 L1177.7,304.59 L1183.0,304.95 L1188.3,305.30 L1193.7,305.63 L1199.0,305.96 L1204.3,306.27 L1209.7,306.58 L1215.0,306.87 L1220.3,307.14 L1225.6,307.40 L1231.0,307.64 L1236.3,307.87 L1241.6,308.07 L1246.9,308.26 L1252.3,308.45 L1257.6,308.62 L1262.9,308.79 L1268.2,308.95 L1273.6,309.10 L1278.9,309.25 L1284.2,309.39 L1289.5,309.53 L1294.9,309.66 L1300.2,309.79 L1305.5,309.92 L1310.9,310.04 L1316.2,310.16 L1321.5,310.28 L1326.8,310.39 L1332.2,310.51 L1337.5,310.62 L1342.8,310.74 L1348.1,310.85 L1353.5,310.97 L1358.8,311.09 L1364.1,311.20 L1365.5,402.1 L825.0,402.1Z" fill="#8c8cfc"/>
<path d="M826.1,309.17 L829.7,308.61 L833.4,308.07 L837.1,307.53 L840.7,307.00 L844.4,306.47 L848.0,305.96 L851.7,305.45 L855.3,304.95 L859.0,304.45 L862.6,303.97 L866.3,303.49 L869.9,303.03 L873.6,302.57 L877.2,302.12 L880.9,301.68 L884.5,301.24 L888.2,300.82 L891.9,300.41 L895.5,300.00 L899.2,299.61 L902.8,299.23 L906.5,298.85 L910.1,298.49 L913.8,298.14 L917.4,297.80 L921.1,297.47 L924.7,297.16 L928.4,296.85 L932.0,296.56 L935.7,296.29 L939.3,296.03 L943.0,295.79 L946.6,295.56 L950.3,295.35 L954.0,295.16 L957.6,294.99 L961.3,294.85 L964.9,294.74 L968.6,294.68 L972.4,294.73 L976.3,294.84 L980.1,295.01 L984.0,295.23 L987.8,295.50 L991.7,295.82 L995.5,296.18 L999.4,296.59 L1003.2,297.04 L1007.1,297.54 L1010.9,298.07 L1011.7,302.64 L1015.4,302.15 L1019.1,301.70 L1022.9,301.31 L1026.6,300.96 L1030.3,300.66 L1034.0,300.41 L1037.8,300.21 L1041.5,300.06 L1045.2,299.96 L1048.9,299.91 L1052.7,299.93 L1056.4,300.03 L1060.1,300.20 L1063.8,300.43 L1067.6,300.71 L1071.3,301.03 L1075.0,301.37 L1078.7,301.71 L1082.5,302.05 L1086.2,302.36 L1089.9,302.65 L1093.6,302.90 L1097.4,303.14 L1101.1,303.38 L1104.8,303.63 L1108.5,303.87 L1112.3,304.10 L1116.0,304.34 L1119.7,304.58 L1123.4,304.81 L1127.2,305.04 L1130.9,305.27 L1134.6,305.50 L1138.3,305.73 L1142.1,305.95 L1145.8,306.17 L1149.5,306.39 L1153.2,306.61 L1157.0,306.83 L1157.7,310.57 L1163.0,310.95 L1168.3,311.32 L1173.6,311.68 L1178.9,312.04 L1184.2,312.40 L1189.5,312.74 L1194.8,313.08 L1200.1,313.40 L1205.4,313.72 L1210.7,314.02 L1216.0,314.32 L1221.2,314.60 L1226.5,314.86 L1231.8,315.11 L1237.1,315.35 L1242.4,315.57 L1247.7,315.77 L1253.0,315.97 L1258.3,316.16 L1263.6,316.35 L1268.9,316.52 L1274.2,316.69 L1279.5,316.86 L1284.7,317.02 L1290.0,317.17 L1295.3,317.32 L1300.6,317.47 L1305.9,317.61 L1311.2,317.75 L1316.5,317.89 L1321.8,318.02 L1327.1,318.16 L1332.4,318.29 L1337.7,318.42 L1342.9,318.55 L1348.2,318.68 L1353.5,318.81 L1358.8,318.95 L1364.1,319.07 L1365.5,402.1 L825.0,402.1Z" fill="#6060fc"/>
<path d="M826.1,314.16 L829.7,313.67 L833.4,313.19 L837.1,312.72 L840.7,312.25 L844.4,311.79 L848.0,311.33 L851.7,310.88 L855.3,310.44 L859.0,310.01 L862.6,309.58 L866.3,309.16 L869.9,308.75 L873.6,308.35 L877.2,307.95 L880.9,307.56 L884.5,307.18 L888.2,306.81 L891.9,306.44 L895.5,306.09 L899.2,305.74 L902.8,305.40 L906.5,305.07 L910.1,304.76 L913.8,304.45 L917.4,304.15 L921.1,303.86 L924.7,303.58 L928.4,303.31 L932.0,303.06 L935.7,302.82 L939.3,302.59 L943.0,302.37 L946.6,302.17 L950.3,301.99 L954.0,301.82 L957.6,301.68 L961.3,301.55 L964.9,301.46 L968.6,301.40 L972.5,301.43 L976.5,301.51 L980.4,301.62 L984.3,301.77 L988.3,301.95 L992.2,302.16 L996.2,302.40 L1000.1,302.67 L1004.1,302.96 L1008.0,303.29 L1011.9,303.64 L1012.7,308.22 L1016.4,307.73 L1020.2,307.29 L1023.9,306.90 L1027.6,306.55 L1031.3,306.26 L1035.0,306.01 L1038.8,305.81 L1042.5,305.67 L1046.2,305.58 L1049.9,305.54 L1053.7,305.56 L1057.4,305.67 L1061.1,305.85 L1064.8,306.09 L1068.6,306.37 L1072.3,306.67 L1076.0,307.00 L1079.7,307.33 L1083.4,307.65 L1087.2,307.94 L1090.9,308.19 L1094.6,308.42 L1098.3,308.64 L1102.1,308.86 L1105.8,309.08 L1109.5,309.30 L1113.2,309.51 L1116.9,309.72 L1120.7,309.93 L1124.4,310.14 L1128.1,310.34 L1131.8,310.54 L1135.6,310.74 L1139.3,310.93 L1143.0,311.12 L1146.7,311.31 L1150.4,311.50 L1154.2,311.68 L1157.9,311.86 L1158.7,315.65 L1163.9,316.09 L1169.2,316.51 L1174.5,316.93 L1179.7,317.34 L1185.0,317.74 L1190.3,318.13 L1195.5,318.51 L1200.8,318.88 L1206.1,319.23 L1211.3,319.56 L1216.6,319.88 L1221.9,320.18 L1227.2,320.46 L1232.4,320.72 L1237.7,320.95 L1243.0,321.16 L1248.2,321.36 L1253.5,321.54 L1258.8,321.72 L1264.0,321.88 L1269.3,322.04 L1274.6,322.20 L1279.8,322.34 L1285.1,322.48 L1290.4,322.62 L1295.6,322.74 L1300.9,322.87 L1306.2,322.99 L1311.4,323.11 L1316.7,323.23 L1322.0,323.34 L1327.2,323.45 L1332.5,323.56 L1337.8,323.68 L1343.0,323.79 L1348.3,323.90 L1353.6,324.01 L1358.8,324.13 L1364.1,324.24 L1365.5,402.1 L825.0,402.1Z" fill="#8c8cfc"/>
<path d="M826.1,324.30 L829.7,323.84 L833.4,323.38 L837.1,322.92 L840.7,322.47 L844.4,322.03 L848.0,321.60 L851.7,321.17 L855.3,320.75 L859.0,320.33 L862.6,319.93 L866.3,319.52 L869.9,319.13 L873.6,318.74 L877.2,318.36 L880.9,317.99 L884.5,317.63 L888.2,317.27 L891.9,316.92 L895.5,316.58 L899.2,316.25 L902.8,315.93 L906.5,315.62 L910.1,315.31 L913.8,315.01 L917.4,314.73 L921.1,314.45 L924.7,314.19 L928.4,313.93 L932.0,313.69 L935.7,313.46 L939.3,313.24 L943.0,313.03 L946.6,312.84 L950.3,312.67 L954.0,312.51 L957.6,312.37 L961.3,312.25 L964.9,312.16 L968.6,312.11 L972.7,312.13 L976.8,312.20 L980.9,312.30 L985.0,312.43 L989.1,312.59 L993.3,312.77 L997.4,312.99 L1001.5,313.23 L1005.6,313.49 L1009.7,313.78 L1013.8,314.10 L1014.6,318.49 L1018.3,318.08 L1022.1,317.72 L1025.8,317.40 L1029.5,317.13 L1033.2,316.90 L1037.0,316.71 L1040.7,316.56 L1044.4,316.46 L1048.1,316.40 L1051.8,316.39 L1055.6,316.44 L1059.3,316.57 L1063.0,316.77 L1066.7,317.02 L1070.5,317.30 L1074.2,317.62 L1077.9,317.94 L1081.6,318.26 L1085.4,318.56 L1089.1,318.83 L1092.8,319.06 L1096.5,319.28 L1100.2,319.50 L1104.0,319.71 L1107.7,319.93 L1111.4,320.14 L1115.1,320.35 L1118.9,320.56 L1122.6,320.76 L1126.3,320.96 L1130.0,321.16 L1133.8,321.36 L1137.5,321.56 L1141.2,321.75 L1144.9,321.94 L1148.7,322.12 L1152.4,322.30 L1156.1,322.48 L1159.8,322.66 L1160.6,326.11 L1165.8,326.59 L1171.0,327.07 L1176.3,327.53 L1181.5,327.99 L1186.7,328.44 L1191.9,328.87 L1197.1,329.29 L1202.3,329.70 L1207.6,330.08 L1212.8,330.45 L1218.0,330.80 L1223.2,331.12 L1228.4,331.42 L1233.7,331.70 L1238.9,331.94 L1244.1,332.16 L1249.3,332.36 L1254.5,332.55 L1259.8,332.73 L1265.0,332.90 L1270.2,333.06 L1275.4,333.22 L1280.6,333.37 L1285.8,333.51 L1291.1,333.65 L1296.3,333.78 L1301.5,333.91 L1306.7,334.03 L1311.9,334.15 L1317.2,334.26 L1322.4,334.38 L1327.6,334.49 L1332.8,334.61 L1338.0,334.72 L1343.2,334.83 L1348.5,334.94 L1353.7,335.06 L1358.9,335.18 L1364.1,335.29 L1365.5,402.1 L825.0,402.1Z" fill="#2020ff"/>
<path d="M826.1,337.16 L829.7,336.66 L833.4,336.17 L837.1,335.69 L840.7,335.21 L844.4,334.74 L848.0,334.28 L851.7,333.82 L855.3,333.37 L859.0,332.93 L862.6,332.49 L866.3,332.06 L869.9,331.64 L873.6,331.23 L877.2,330.83 L880.9,330.43 L884.5,330.04 L888.2,329.66 L891.9,329.29 L895.5,328.93 L899.2,328.57 L902.8,328.23 L906.5,327.90 L910.1,327.57 L913.8,327.25 L917.4,326.95 L921.1,326.65 L924.7,326.37 L928.4,326.10 L932.0,325.84 L935.7,325.59 L939.3,325.36 L943.0,325.14 L946.6,324.94 L950.3,324.75 L954.0,324.58 L957.6,324.43 L961.3,324.30 L964.9,324.20 L968.6,324.15 L972.9,324.18 L977.2,324.27 L981.5,324.39 L985.8,324.55 L990.2,324.75 L994.5,324.99 L998.8,325.25 L1003.1,325.55 L1007.4,325.89 L1011.7,326.25 L1016.1,326.64 L1016.8,330.24 L1020.6,329.87 L1024.3,329.55 L1028.0,329.26 L1031.7,329.02 L1035.4,328.83 L1039.2,328.67 L1042.9,328.56 L1046.6,328.48 L1050.3,328.44 L1054.1,328.44 L1057.8,328.52 L1061.5,328.68 L1065.2,328.90 L1069.0,329.16 L1072.7,329.45 L1076.4,329.77 L1080.1,330.08 L1083.8,330.39 L1087.6,330.67 L1091.3,330.92 L1095.0,331.14 L1098.7,331.35 L1102.5,331.57 L1106.2,331.78 L1109.9,331.99 L1113.6,332.20 L1117.4,332.41 L1121.1,332.61 L1124.8,332.82 L1128.5,333.02 L1132.2,333.22 L1136.0,333.41 L1139.7,333.60 L1143.4,333.79 L1147.1,333.98 L1150.9,334.17 L1154.6,334.35 L1158.3,334.53 L1162.0,334.70 L1162.8,338.26 L1168.0,338.70 L1173.1,339.14 L1178.3,339.58 L1183.5,340.00 L1188.6,340.42 L1193.8,340.82 L1198.9,341.21 L1204.1,341.59 L1209.3,341.95 L1214.4,342.29 L1219.6,342.61 L1224.7,342.91 L1229.9,343.18 L1235.1,343.43 L1240.2,343.66 L1245.4,343.85 L1250.6,344.04 L1255.7,344.21 L1260.9,344.38 L1266.0,344.53 L1271.2,344.68 L1276.4,344.83 L1281.5,344.96 L1286.7,345.09 L1291.9,345.22 L1297.0,345.34 L1302.2,345.46 L1307.3,345.57 L1312.5,345.68 L1317.7,345.79 L1322.8,345.89 L1328.0,346.00 L1333.1,346.10 L1338.3,346.20 L1343.5,346.31 L1348.6,346.41 L1353.8,346.52 L1359.0,346.63 L1364.1,346.73 L1365.5,402.1 L825.0,402.1Z" fill="#7070fc"/>
<path d="M826.1,351.10 L829.7,350.59 L833.4,350.09 L837.1,349.60 L840.7,349.11 L844.4,348.63 L848.0,348.15 L851.7,347.68 L855.3,347.22 L859.0,346.77 L862.6,346.33 L866.3,345.89 L869.9,345.46 L873.6,345.04 L877.2,344.62 L880.9,344.22 L884.5,343.82 L888.2,343.43 L891.9,343.05 L895.5,342.68 L899.2,342.32 L902.8,341.96 L906.5,341.62 L910.1,341.29 L913.8,340.97 L917.4,340.65 L921.1,340.35 L924.7,340.06 L928.4,339.78 L932.0,339.52 L935.7,339.27 L939.3,339.03 L943.0,338.80 L946.6,338.59 L950.3,338.40 L954.0,338.23 L957.6,338.07 L961.3,337.94 L964.9,337.84 L968.6,337.79 L973.1,337.83 L977.7,337.92 L982.2,338.06 L986.8,338.24 L991.3,338.46 L995.8,338.73 L1000.4,339.03 L1004.9,339.36 L1009.5,339.73 L1014.0,340.14 L1018.6,340.58 L1019.4,343.88 L1023.1,343.51 L1026.8,343.18 L1030.5,342.90 L1034.2,342.65 L1038.0,342.45 L1041.7,342.29 L1045.4,342.17 L1049.1,342.10 L1052.8,342.07 L1056.6,342.10 L1060.3,342.20 L1064.0,342.35 L1067.7,342.56 L1071.4,342.80 L1075.2,343.06 L1078.9,343.34 L1082.6,343.61 L1086.3,343.86 L1090.0,344.09 L1093.8,344.29 L1097.5,344.48 L1101.2,344.67 L1104.9,344.86 L1108.6,345.05 L1112.4,345.24 L1116.1,345.43 L1119.8,345.62 L1123.5,345.80 L1127.2,345.99 L1130.9,346.17 L1134.7,346.35 L1138.4,346.53 L1142.1,346.71 L1145.8,346.89 L1149.5,347.06 L1153.3,347.23 L1157.0,347.41 L1160.7,347.58 L1164.4,347.74 L1165.2,351.60 L1170.3,352.04 L1175.4,352.47 L1180.5,352.90 L1185.6,353.32 L1190.7,353.73 L1195.8,354.13 L1200.9,354.52 L1206.0,354.89 L1211.1,355.24 L1216.2,355.58 L1221.3,355.90 L1226.4,356.20 L1231.5,356.47 L1236.6,356.72 L1241.7,356.95 L1246.8,357.15 L1251.9,357.35 L1257.0,357.53 L1262.1,357.71 L1267.2,357.88 L1272.3,358.04 L1277.4,358.19 L1282.5,358.34 L1287.6,358.48 L1292.7,358.62 L1297.8,358.75 L1302.9,358.87 L1308.0,359.00 L1313.1,359.12 L1318.2,359.24 L1323.3,359.36 L1328.4,359.47 L1333.5,359.59 L1338.6,359.70 L1343.7,359.81 L1348.8,359.93 L1353.9,360.05 L1359.0,360.17 L1364.1,360.28 L1365.5,402.1 L825.0,402.1Z" fill="#2020ff"/>
<path d="M826.1,372.22 L829.7,371.69 L833.4,371.16 L837.1,370.64 L840.7,370.13 L844.4,369.63 L848.0,369.13 L851.7,368.65 L855.3,368.16 L859.0,367.69 L862.6,367.22 L866.3,366.77 L869.9,366.32 L873.6,365.88 L877.2,365.44 L880.9,365.02 L884.5,364.60 L888.2,364.20 L891.9,363.80 L895.5,363.41 L899.2,363.03 L902.8,362.66 L906.5,362.30 L910.1,361.96 L913.8,361.62 L917.4,361.29 L921.1,360.98 L924.7,360.67 L928.4,360.38 L932.0,360.10 L935.7,359.84 L939.3,359.59 L943.0,359.36 L946.6,359.14 L950.3,358.94 L954.0,358.75 L957.6,358.59 L961.3,358.46 L964.9,358.35 L968.6,358.30 L973.5,358.33 L978.4,358.43 L983.3,358.57 L988.2,358.76 L993.0,358.98 L997.9,359.25 L1002.8,359.55 L1007.7,359.90 L1012.6,360.27 L1017.5,360.69 L1022.4,361.13 L1023.2,365.37 L1026.9,364.94 L1030.6,364.56 L1034.4,364.23 L1038.1,363.95 L1041.8,363.73 L1045.5,363.56 L1049.3,363.44 L1053.0,363.38 L1056.7,363.39 L1060.4,363.48 L1064.1,363.66 L1067.9,363.91 L1071.6,364.20 L1075.3,364.52 L1079.0,364.84 L1082.7,365.16 L1086.5,365.45 L1090.2,365.70 L1093.9,365.90 L1097.6,366.09 L1101.4,366.28 L1105.1,366.46 L1108.8,366.65 L1112.5,366.83 L1116.2,367.01 L1120.0,367.18 L1123.7,367.35 L1127.4,367.51 L1131.1,367.67 L1134.8,367.83 L1138.6,367.98 L1142.3,368.12 L1146.0,368.26 L1149.7,368.39 L1153.4,368.52 L1157.2,368.64 L1160.9,368.75 L1164.6,368.85 L1168.3,368.95 L1169.1,373.31 L1174.1,373.85 L1179.1,374.38 L1184.1,374.91 L1189.1,375.42 L1194.1,375.92 L1199.1,376.40 L1204.1,376.87 L1209.1,377.31 L1214.1,377.72 L1219.1,378.10 L1224.1,378.45 L1229.1,378.76 L1234.1,379.03 L1239.1,379.26 L1244.1,379.44 L1249.1,379.60 L1254.1,379.75 L1259.1,379.89 L1264.1,380.02 L1269.1,380.14 L1274.1,380.25 L1279.1,380.36 L1284.1,380.47 L1289.1,380.56 L1294.1,380.65 L1299.1,380.74 L1304.1,380.83 L1309.1,380.91 L1314.1,380.99 L1319.1,381.06 L1324.1,381.14 L1329.1,381.21 L1334.1,381.29 L1339.1,381.36 L1344.1,381.44 L1349.1,381.51 L1354.1,381.59 L1359.1,381.68 L1364.1,381.76 L1365.5,402.1 L825.0,402.1Z" fill="#4848ff"/>
<path d="M826.1,390.94 L829.7,390.40 L833.4,389.88 L837.1,389.36 L840.7,388.85 L844.4,388.35 L848.0,387.85 L851.7,387.36 L855.3,386.88 L859.0,386.41 L862.6,385.94 L866.3,385.48 L869.9,385.03 L873.6,384.59 L877.2,384.16 L880.9,383.73 L884.5,383.32 L888.2,382.91 L891.9,382.51 L895.5,382.13 L899.2,381.75 L902.8,381.38 L906.5,381.02 L910.1,380.67 L913.8,380.33 L917.4,380.01 L921.1,379.69 L924.7,379.39 L928.4,379.10 L932.0,378.82 L935.7,378.56 L939.3,378.31 L943.0,378.07 L946.6,377.85 L950.3,377.65 L954.0,377.47 L957.6,377.31 L961.3,377.17 L964.9,377.07 L968.6,377.01 L973.8,377.05 L979.0,377.16 L984.2,377.32 L989.4,377.53 L994.6,377.78 L999.8,378.08 L1005.0,378.42 L1010.2,378.81 L1015.4,379.23 L1020.6,379.70 L1025.8,380.20 L1026.6,383.44 L1030.3,383.04 L1034.0,382.69 L1037.8,382.39 L1041.5,382.14 L1045.2,381.94 L1048.9,381.80 L1052.6,381.72 L1056.4,381.69 L1060.1,381.74 L1063.8,381.88 L1067.5,382.09 L1071.3,382.35 L1075.0,382.65 L1078.7,382.96 L1082.4,383.27 L1086.1,383.55 L1089.9,383.80 L1093.6,384.00 L1097.3,384.19 L1101.0,384.37 L1104.7,384.56 L1108.5,384.74 L1112.2,384.92 L1115.9,385.10 L1119.6,385.28 L1123.3,385.45 L1127.1,385.62 L1130.8,385.78 L1134.5,385.94 L1138.2,386.10 L1141.9,386.25 L1145.7,386.39 L1149.4,386.53 L1153.1,386.67 L1156.8,386.80 L1160.5,386.93 L1164.3,387.05 L1168.0,387.16 L1171.7,387.27 L1172.5,392.03 L1177.4,392.58 L1182.3,393.12 L1187.2,393.66 L1192.1,394.18 L1197.1,394.69 L1202.0,395.19 L1206.9,395.66 L1211.8,396.11 L1216.7,396.54 L1221.6,396.93 L1226.5,397.29 L1231.4,397.62 L1236.4,397.90 L1241.3,398.14 L1246.2,398.35 L1251.1,398.54 L1256.0,398.72 L1260.9,398.89 L1265.8,399.05 L1270.8,399.20 L1275.7,399.34 L1280.6,399.48 L1285.5,399.61 L1290.4,399.73 L1295.3,399.85 L1300.2,399.96 L1305.2,400.07 L1310.1,400.18 L1315.0,400.28 L1319.9,400.38 L1324.8,400.48 L1329.7,400.58 L1334.6,400.68 L1339.5,400.78 L1344.5,400.88 L1349.4,400.98 L1354.3,401.08 L1359.2,401.19 L1364.1,401.29 L1365.5,402.1 L825.0,402.1Z" fill="#3c3cff"/>
</g>
<rect x="827.95" y="79.35" width="534.55" height="317.70" fill="none" stroke="#000" stroke-width="3.0"/>
<line x1="827.95" y1="68.10" x2="827.95" y2="79.35" stroke="#000" stroke-width="3.0"/>
<line x1="887.27" y1="68.10" x2="887.27" y2="79.35" stroke="#000" stroke-width="3.0"/>
<line x1="946.59" y1="68.10" x2="946.59" y2="79.35" stroke="#000" stroke-width="3.0"/>
<line x1="1005.91" y1="68.10" x2="1005.91" y2="79.35" stroke="#000" stroke-width="3.0"/>
<line x1="1065.23" y1="68.10" x2="1065.23" y2="79.35" stroke="#000" stroke-width="3.0"/>
<line x1="1124.55" y1="68.10" x2="1124.55" y2="79.35" stroke="#000" stroke-width="3.0"/>
<line x1="1183.87" y1="68.10" x2="1183.87" y2="79.35" stroke="#000" stroke-width="3.0"/>
<line x1="1243.19" y1="68.10" x2="1243.19" y2="79.35" stroke="#000" stroke-width="3.0"/>
<line x1="1302.51" y1="68.10" x2="1302.51" y2="79.35" stroke="#000" stroke-width="3.0"/>
<line x1="1361.83" y1="68.10" x2="1361.83" y2="79.35" stroke="#000" stroke-width="3.0"/>
<line x1="817.10" y1="79.35" x2="827.95" y2="79.35" stroke="#000" stroke-width="3.0"/>
<line x1="817.10" y1="185.25" x2="827.95" y2="185.25" stroke="#000" stroke-width="3.0"/>
<line x1="817.10" y1="291.15" x2="827.95" y2="291.15" stroke="#000" stroke-width="3.0"/>
<line x1="817.10" y1="397.05" x2="827.95" y2="397.05" stroke="#000" stroke-width="3.0"/>
<linearGradient id="ga" x1="0" y1="0" x2="0" y2="1"><stop offset="0" stop-color="#0000ff"/><stop offset="0.5" stop-color="#ffffff"/><stop offset="1" stop-color="#ff0000"/></linearGradient>
<rect x="630.20" y="76.50" width="18.50" height="319.60" fill="url(#ga)" stroke="#000" stroke-width="3.0"/>
<line x1="648.70" y1="84.30" x2="654.00" y2="84.30" stroke="#000" stroke-width="3.0"/>
<line x1="648.70" y1="240.30" x2="654.00" y2="240.30" stroke="#000" stroke-width="3.0"/>
<line x1="648.70" y1="396.40" x2="654.00" y2="396.40" stroke="#000" stroke-width="3.0"/>
<linearGradient id="gb" x1="0" y1="0" x2="0" y2="1"><stop offset="0" stop-color="#0000ff"/><stop offset="0.5" stop-color="#ffffff"/><stop offset="1" stop-color="#ff0000"/></linearGradient>
<rect x="1373.80" y="78.90" width="18.00" height="318.30" fill="url(#gb)" stroke="#000" stroke-width="3.0"/>
<line x1="1391.80" y1="108.00" x2="1397.10" y2="108.00" stroke="#000" stroke-width="3.0"/>
<line x1="1391.80" y1="204.10" x2="1397.10" y2="204.10" stroke="#000" stroke-width="3.0"/>
<line x1="1391.80" y1="300.60" x2="1397.10" y2="300.60" stroke="#000" stroke-width="3.0"/>
<line x1="1391.80" y1="397.40" x2="1397.10" y2="397.40" stroke="#000" stroke-width="3.0"/>
<text transform="translate(256.79,21.80) scale(0.9124,1)" font-family="Liberation Sans, Arial, sans-serif" stroke="#000" stroke-width="0.45" font-size="28.84" >Distance</text>
<text transform="translate(365.11,21.80) scale(0.9166,1)" font-family="Liberation Sans, Arial, sans-serif" stroke="#000" stroke-width="0.45" font-size="28.84" >(km)</text>
<text transform="translate(1009.93,24.45) scale(0.8986,1)" font-family="Liberation Sans, Arial, sans-serif" stroke="#000" stroke-width="0.45" font-size="28.84" >Distance</text>
<text transform="translate(1116.54,24.45) scale(0.9019,1)" font-family="Liberation Sans, Arial, sans-serif" stroke="#000" stroke-width="0.45" font-size="28.84" >(km)</text>
<text transform="translate(70.10,58.48) scale(0.9550,1)" text-anchor="middle" font-family="Liberation Sans, Arial, sans-serif" stroke="#000" stroke-width="0.45" font-size="30.10">0</text>
<text transform="translate(828.15,61.28) scale(0.9550,1)" text-anchor="middle" font-family="Liberation Sans, Arial, sans-serif" stroke="#000" stroke-width="0.45" font-size="30.10">0</text>
<text transform="translate(131.00,58.48) scale(0.9550,1)" text-anchor="middle" font-family="Liberation Sans, Arial, sans-serif" stroke="#000" stroke-width="0.45" font-size="30.10">2</text>
<text transform="translate(887.47,61.28) scale(0.9550,1)" text-anchor="middle" font-family="Liberation Sans, Arial, sans-serif" stroke="#000" stroke-width="0.45" font-size="30.10">2</text>
<text transform="translate(191.90,58.48) scale(0.9550,1)" text-anchor="middle" font-family="Liberation Sans, Arial, sans-serif" stroke="#000" stroke-width="0.45" font-size="30.10">4</text>
<text transform="translate(946.79,61.28) scale(0.9550,1)" text-anchor="middle" font-family="Liberation Sans, Arial, sans-serif" stroke="#000" stroke-width="0.45" font-size="30.10">4</text>
<text transform="translate(252.80,58.48) scale(0.9550,1)" text-anchor="middle" font-family="Liberation Sans, Arial, sans-serif" stroke="#000" stroke-width="0.45" font-size="30.10">6</text>
<text transform="translate(1006.11,61.28) scale(0.9550,1)" text-anchor="middle" font-family="Liberation Sans, Arial, sans-serif" stroke="#000" stroke-width="0.45" font-size="30.10">6</text>
<text transform="translate(313.70,58.48) scale(0.9550,1)" text-anchor="middle" font-family="Liberation Sans, Arial, sans-serif" stroke="#000" stroke-width="0.45" font-size="30.10">8</text>
<text transform="translate(1065.43,61.28) scale(0.9550,1)" text-anchor="middle" font-family="Liberation Sans, Arial, sans-serif" stroke="#000" stroke-width="0.45" font-size="30.10">8</text>
<text transform="translate(374.60,58.48) scale(0.9550,1)" text-anchor="middle" font-family="Liberation Sans, Arial, sans-serif" stroke="#000" stroke-width="0.45" font-size="30.10">10</text>
<text transform="translate(1124.75,61.28) scale(0.9550,1)" text-anchor="middle" font-family="Liberation Sans, Arial, sans-serif" stroke="#000" stroke-width="0.45" font-size="30.10">10</text>
<text transform="translate(435.50,58.48) scale(0.9550,1)" text-anchor="middle" font-family="Liberation Sans, Arial, sans-serif" stroke="#000" stroke-width="0.45" font-size="30.10">12</text>
<text transform="translate(1184.07,61.28) scale(0.9550,1)" text-anchor="middle" font-family="Liberation Sans, Arial, sans-serif" stroke="#000" stroke-width="0.45" font-size="30.10">12</text>
<text transform="translate(496.40,58.48) scale(0.9550,1)" text-anchor="middle" font-family="Liberation Sans, Arial, sans-serif" stroke="#000" stroke-width="0.45" font-size="30.10">14</text>
<text transform="translate(1243.39,61.28) scale(0.9550,1)" text-anchor="middle" font-family="Liberation Sans, Arial, sans-serif" stroke="#000" stroke-width="0.45" font-size="30.10">14</text>
<text transform="translate(557.30,58.48) scale(0.9550,1)" text-anchor="middle" font-family="Liberation Sans, Arial, sans-serif" stroke="#000" stroke-width="0.45" font-size="30.10">16</text>
<text transform="translate(1302.71,61.28) scale(0.9550,1)" text-anchor="middle" font-family="Liberation Sans, Arial, sans-serif" stroke="#000" stroke-width="0.45" font-size="30.10">16</text>
<text transform="translate(618.20,58.48) scale(0.9550,1)" text-anchor="middle" font-family="Liberation Sans, Arial, sans-serif" stroke="#000" stroke-width="0.45" font-size="30.10">18</text>
<text transform="translate(1362.03,61.28) scale(0.9550,1)" text-anchor="middle" font-family="Liberation Sans, Arial, sans-serif" stroke="#000" stroke-width="0.45" font-size="30.10">18</text>
<text transform="translate(49.70,86.13) scale(0.9550,1)" text-anchor="middle" font-family="Liberation Sans, Arial, sans-serif" stroke="#000" stroke-width="0.45" font-size="30.10">0</text>
<text transform="translate(49.70,192.58) scale(0.9550,1)" text-anchor="middle" font-family="Liberation Sans, Arial, sans-serif" stroke="#000" stroke-width="0.45" font-size="30.10">1</text>
<text transform="translate(49.70,298.98) scale(0.9550,1)" text-anchor="middle" font-family="Liberation Sans, Arial, sans-serif" stroke="#000" stroke-width="0.45" font-size="30.10">2</text>
<text transform="translate(49.70,405.38) scale(0.9550,1)" text-anchor="middle" font-family="Liberation Sans, Arial, sans-serif" stroke="#000" stroke-width="0.45" font-size="30.10">3</text>
<text transform="translate(808.40,88.68) scale(0.9550,1)" text-anchor="middle" font-family="Liberation Sans, Arial, sans-serif" stroke="#000" stroke-width="0.45" font-size="30.10">0</text>
<text transform="translate(808.40,194.78) scale(0.9550,1)" text-anchor="middle" font-family="Liberation Sans, Arial, sans-serif" stroke="#000" stroke-width="0.45" font-size="30.10">1</text>
<text transform="translate(808.40,300.88) scale(0.9550,1)" text-anchor="middle" font-family="Liberation Sans, Arial, sans-serif" stroke="#000" stroke-width="0.45" font-size="30.10">2</text>
<text transform="translate(808.40,406.98) scale(0.9550,1)" text-anchor="middle" font-family="Liberation Sans, Arial, sans-serif" stroke="#000" stroke-width="0.45" font-size="30.10">3</text>
<text transform="translate(22.10,311.16) rotate(-90) scale(1.0166,1)" font-family="Liberation Sans, Arial, sans-serif" stroke="#000" stroke-width="0.45" font-size="30.29">Depth</text>
<text transform="translate(22.10,222.36) rotate(-90) scale(0.9658,1)" font-family="Liberation Sans, Arial, sans-serif" stroke="#000" stroke-width="0.45" font-size="30.29">(km)</text>
<text transform="translate(781.20,312.61) rotate(-90) scale(1.0630,1)" font-family="Liberation Sans, Arial, sans-serif" stroke="#000" stroke-width="0.45" font-size="29.57">Depth</text>
<text transform="translate(781.20,221.89) rotate(-90) scale(1.0075,1)" font-family="Liberation Sans, Arial, sans-serif" stroke="#000" stroke-width="0.45" font-size="29.57">(km)</text>
<text transform="translate(732.20,337.50) rotate(-90) scale(1.0068,1)" font-family="Liberation Sans, Arial, sans-serif" stroke="#000" stroke-width="0.45" font-size="29.86">Velocity</text>
<text transform="translate(732.20,226.85) rotate(-90) scale(0.9759,1)" font-family="Liberation Sans, Arial, sans-serif" stroke="#000" stroke-width="0.45" font-size="29.86">(km/s)</text>
<text transform="translate(1489.20,335.10) rotate(-90) scale(1.0413,1)" font-family="Liberation Sans, Arial, sans-serif" stroke="#000" stroke-width="0.45" font-size="28.84">Density</text>
<text transform="translate(1489.20,227.76) rotate(-90) scale(1.0744,1)" font-family="Liberation Sans, Arial, sans-serif" stroke="#000" stroke-width="0.45" font-size="28.84">(kg/m³)</text>
<text transform="translate(669.00,95.83) scale(0.9550,1)" text-anchor="middle" font-family="Liberation Sans, Arial, sans-serif" stroke="#000" stroke-width="0.45" font-size="30.10">6</text>
<text transform="translate(669.00,252.13) scale(0.9550,1)" text-anchor="middle" font-family="Liberation Sans, Arial, sans-serif" stroke="#000" stroke-width="0.45" font-size="30.10">4</text>
<text transform="translate(669.00,408.48) scale(0.9550,1)" text-anchor="middle" font-family="Liberation Sans, Arial, sans-serif" stroke="#000" stroke-width="0.45" font-size="30.10">2</text>
<text transform="translate(1403.79,119.75) scale(0.8540,1)" font-family="Liberation Sans, Arial, sans-serif" stroke="#000" stroke-width="0.45" font-size="30.71" >2.5</text>
<text transform="translate(1403.85,216.35) scale(0.8816,1)" font-family="Liberation Sans, Arial, sans-serif" stroke="#000" stroke-width="0.45" font-size="30.71" >2.0</text>
<text transform="translate(1404.09,312.95) scale(0.8588,1)" font-family="Liberation Sans, Arial, sans-serif" stroke="#000" stroke-width="0.45" font-size="30.71" >1.5</text>
<text transform="translate(1405.13,409.85) scale(0.8409,1)" font-family="Liberation Sans, Arial, sans-serif" stroke="#000" stroke-width="0.45" font-size="30.71" >1.0</text>
<text transform="translate(303.47,442.90) scale(0.8848,1)" font-family="Liberation Sans, Arial, sans-serif" stroke="#000" stroke-width="0.45" font-size="41.92" >(a)</text>
<text transform="translate(1102.49,442.90) scale(0.9493,1)" font-family="Liberation Sans, Arial, sans-serif" stroke="#000" stroke-width="0.45" font-size="42.33" >(b)</text>
</svg>
</body></html>
